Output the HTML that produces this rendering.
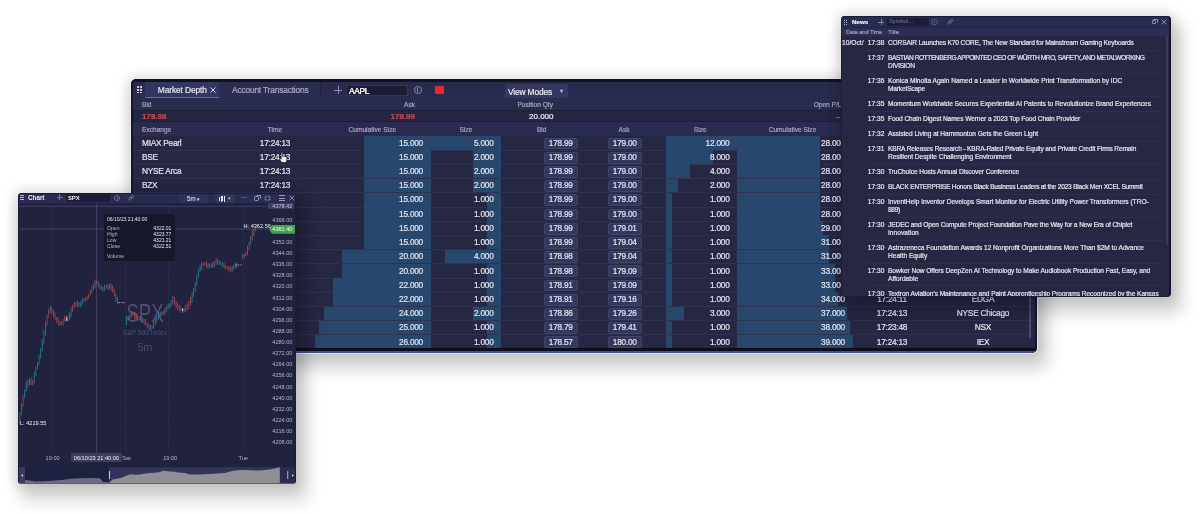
<!DOCTYPE html>
<html><head><meta charset="utf-8"><style>
html,body{margin:0;padding:0;}
.sw div{-webkit-text-stroke:0.2px currentColor;}
body{width:1200px;height:514px;overflow:hidden;position:relative;background:#fff;font-family:"Liberation Sans", Arial, sans-serif;}
</style></head><body>
<div class="sw" style="position:absolute;left:131px;top:79px;width:906px;height:274px;border-radius:5px;overflow:hidden;box-shadow:0 0 0 1px rgba(235,235,240,.9),0 0 12px 5px rgba(0,0,0,.10),7px 12px 16px 5px rgba(0,0,0,.16);"><div style="position:absolute;left:0px;top:0px;width:906px;height:274px;background:#252743;"></div><div style="position:absolute;left:0px;top:2px;width:906px;height:17px;background:#292b4e;"></div><div style="position:absolute;left:14px;top:2px;width:74px;height:17px;background:#323660;border-bottom:1px solid #4a77ae;box-sizing:border-box;"></div><div style="position:absolute;left:88px;top:2px;width:102px;height:17px;background:#2b2d50;border-right:1px solid #22243f;box-sizing:border-box;"></div><div style="position:absolute;left:6.199999999999989px;top:7.299999999999997px;width:1.8px;height:1.8px;background:#c8c9d8;"></div><div style="position:absolute;left:6.199999999999989px;top:10.0px;width:1.8px;height:1.8px;background:#c8c9d8;"></div><div style="position:absolute;left:6.199999999999989px;top:12.700000000000003px;width:1.8px;height:1.8px;background:#c8c9d8;"></div><div style="position:absolute;left:9.0px;top:7.299999999999997px;width:1.8px;height:1.8px;background:#c8c9d8;"></div><div style="position:absolute;left:9.0px;top:10.0px;width:1.8px;height:1.8px;background:#c8c9d8;"></div><div style="position:absolute;left:9.0px;top:12.700000000000003px;width:1.8px;height:1.8px;background:#c8c9d8;"></div><div style="position:absolute;left:26.80000000000001px;top:6.16px;font-size:8.4px;line-height:10.08px;color:#e4e4ee;font-weight:400;white-space:nowrap;letter-spacing:-0.1px;">Market Depth</div><svg style="position:absolute;left:79.30000000000001px;top:8.299999999999997px" width="6" height="6"><path d="M0.5,0.5L5.5,5.5M5.5,0.5L0.5,5.5" stroke="#d4d4e2" stroke-width="1"/></svg><div style="position:absolute;left:101px;top:6.16px;font-size:8.4px;line-height:10.08px;color:#a9abc6;font-weight:400;white-space:nowrap;letter-spacing:-0.18px;">Account Transactions</div><div style="position:absolute;left:202.8px;top:10.799999999999997px;width:8.5px;height:0.9px;background:#8a8cb0;"></div><div style="position:absolute;left:206.60000000000002px;top:6.799999999999997px;width:0.9px;height:8.6px;background:#8a8cb0;"></div><div style="position:absolute;left:197.8px;top:2px;width:0.8px;height:17px;background:#26284a;"></div><div style="position:absolute;left:215px;top:5.5px;width:62px;height:11.5px;background:#1b1c36;border:1px solid #33365a;box-sizing:border-box;"></div><div style="position:absolute;left:218px;top:6.76px;font-size:8.4px;line-height:10.08px;color:#f4f4f8;font-weight:400;white-space:nowrap;letter-spacing:-0.3px;text-shadow:0 0 0.4px #fff;">AAPL</div><div style="position:absolute;left:282.5px;top:7px;width:8px;height:8px;border:1px solid #8587a8;border-radius:50%;box-sizing:border-box;"></div><div style="position:absolute;left:286.1px;top:8.799999999999997px;width:0.9px;height:4px;background:#8587a8;"></div><div style="position:absolute;left:304px;top:7.400000000000006px;width:8.5px;height:7.4px;background:#e42b2e;border-radius:1px;"></div><div style="position:absolute;left:373.5px;top:4.599999999999994px;width:63.5px;height:14.4px;background:#343760;"></div><div style="position:absolute;left:377px;top:7.76px;font-size:8.4px;line-height:10.08px;color:#ececf4;font-weight:400;white-space:nowrap;letter-spacing:-0.15px;">View Modes</div><div style="position:absolute;left:429px;top:8.60px;font-size:6px;line-height:7.20px;color:#a8c0dc;font-weight:400;white-space:nowrap;letter-spacing:0px;">&#x25BE;</div><div style="position:absolute;left:0px;top:19px;width:906px;height:12px;background:#2a2c4e;"></div><div style="position:absolute;left:11px;top:21.84px;font-size:6.6px;line-height:7.92px;color:#a3a5c2;font-weight:400;white-space:nowrap;letter-spacing:0px;">Bid</div><div style="position:absolute;right:calc(100% - 284px);top:21.84px;font-size:6.6px;line-height:7.92px;color:#a3a5c2;font-weight:400;white-space:nowrap;letter-spacing:0px;">Ask</div><div style="position:absolute;right:calc(100% - 422px);top:21.84px;font-size:6.6px;line-height:7.92px;color:#a3a5c2;font-weight:400;white-space:nowrap;letter-spacing:0px;">Position Qty</div><div style="position:absolute;right:calc(100% - 710.5px);top:21.84px;font-size:6.6px;line-height:7.92px;color:#a3a5c2;font-weight:400;white-space:nowrap;letter-spacing:0px;">Open P/L</div><div style="position:absolute;left:0px;top:31px;width:906px;height:12px;background:#232542;"></div><div style="position:absolute;left:0px;top:31.200000000000003px;width:906px;height:0.8px;background:#1d1f38;"></div><div style="position:absolute;left:0px;top:42.2px;width:906px;height:0.8px;background:#1d1f38;"></div><div style="position:absolute;left:11px;top:33.10px;font-size:8px;line-height:9.60px;color:#cf474f;font-weight:700;white-space:nowrap;letter-spacing:0px;">178.98</div><div style="position:absolute;right:calc(100% - 284px);top:33.10px;font-size:8px;line-height:9.60px;color:#cf474f;font-weight:700;white-space:nowrap;letter-spacing:0px;">178.99</div><div style="position:absolute;right:calc(100% - 422.5px);top:33.10px;font-size:8px;line-height:9.60px;color:#eeeef4;font-weight:400;white-space:nowrap;letter-spacing:0px;">20.000</div><div style="position:absolute;left:705px;top:37.5px;width:4px;height:1px;background:#cf474f;"></div><div style="position:absolute;left:0px;top:43px;width:906px;height:14px;background:#2a2c4f;"></div><div style="position:absolute;left:11px;top:46.54px;font-size:6.6px;line-height:7.92px;color:#a3a5c2;font-weight:400;white-space:nowrap;letter-spacing:0px;">Exchange</div><div style="position:absolute;left:44px;width:200px;text-align:center;top:46.54px;font-size:6.6px;line-height:7.92px;color:#a3a5c2;font-weight:400;white-space:nowrap;letter-spacing:0px;">Time</div><div style="position:absolute;left:141.3px;width:200px;text-align:center;top:46.54px;font-size:6.6px;line-height:7.92px;color:#a3a5c2;font-weight:400;white-space:nowrap;letter-spacing:0px;">Cumulative Size</div><div style="position:absolute;left:235px;width:200px;text-align:center;top:46.54px;font-size:6.6px;line-height:7.92px;color:#a3a5c2;font-weight:400;white-space:nowrap;letter-spacing:0px;">Size</div><div style="position:absolute;left:310.70000000000005px;width:200px;text-align:center;top:46.54px;font-size:6.6px;line-height:7.92px;color:#a3a5c2;font-weight:400;white-space:nowrap;letter-spacing:0px;">Bid</div><div style="position:absolute;left:393px;width:200px;text-align:center;top:46.54px;font-size:6.6px;line-height:7.92px;color:#a3a5c2;font-weight:400;white-space:nowrap;letter-spacing:0px;">Ask</div><div style="position:absolute;left:469.20000000000005px;width:200px;text-align:center;top:46.54px;font-size:6.6px;line-height:7.92px;color:#a3a5c2;font-weight:400;white-space:nowrap;letter-spacing:0px;">Size</div><div style="position:absolute;left:561.5px;width:200px;text-align:center;top:46.54px;font-size:6.6px;line-height:7.92px;color:#a3a5c2;font-weight:400;white-space:nowrap;letter-spacing:0px;">Cumulative Size</div><div style="position:absolute;left:661px;width:200px;text-align:center;top:46.54px;font-size:6.6px;line-height:7.92px;color:#a3a5c2;font-weight:400;white-space:nowrap;letter-spacing:0px;">Time</div><div style="position:absolute;left:752px;width:200px;text-align:center;top:46.54px;font-size:6.6px;line-height:7.92px;color:#a3a5c2;font-weight:400;white-space:nowrap;letter-spacing:0px;">Exchange</div><div style="position:absolute;left:233.0769230769231px;top:57.0px;width:66.92307692307692px;height:14.21px;background:#27476c;"></div><div style="position:absolute;left:300.0px;top:57.0px;width:70.0px;height:14.21px;background:#27476c;"></div><div style="position:absolute;left:535px;top:57.0px;width:71.0px;height:14.21px;background:#27476c;"></div><div style="position:absolute;left:606px;top:57.0px;width:83.28205128205128px;height:14.21px;background:#27476c;"></div><div style="position:absolute;left:11px;top:59.62px;font-size:8.3px;line-height:9.96px;color:#e2e3ee;font-weight:400;white-space:nowrap;letter-spacing:-0.25px;">MIAX Pearl</div><div style="position:absolute;left:44px;width:200px;text-align:center;top:59.62px;font-size:8.3px;line-height:9.96px;color:#e2e3ee;font-weight:400;white-space:nowrap;letter-spacing:-0.25px;">17:24:13</div><div style="position:absolute;right:calc(100% - 292px);top:59.62px;font-size:8.3px;line-height:9.96px;color:#e2e3ee;font-weight:400;white-space:nowrap;letter-spacing:-0.25px;">15.000</div><div style="position:absolute;right:calc(100% - 362.5px);top:59.62px;font-size:8.3px;line-height:9.96px;color:#e2e3ee;font-weight:400;white-space:nowrap;letter-spacing:-0.25px;">5.000</div><div style="position:absolute;left:413px;top:58.5px;width:33.5px;height:11.8px;background:#34375e;border:0.7px solid #40436a;box-sizing:border-box;border-radius:1.5px;"></div><div style="position:absolute;left:477px;top:58.5px;width:33.5px;height:11.8px;background:#34375e;border:0.7px solid #40436a;box-sizing:border-box;border-radius:1.5px;"></div><div style="position:absolute;left:329.79999999999995px;width:200px;text-align:center;top:59.62px;font-size:8.3px;line-height:9.96px;color:#e2e3ee;font-weight:400;white-space:nowrap;letter-spacing:-0.25px;">178.99</div><div style="position:absolute;left:393.79999999999995px;width:200px;text-align:center;top:59.62px;font-size:8.3px;line-height:9.96px;color:#e2e3ee;font-weight:400;white-space:nowrap;letter-spacing:-0.25px;">179.00</div><div style="position:absolute;right:calc(100% - 598.5px);top:59.62px;font-size:8.3px;line-height:9.96px;color:#e2e3ee;font-weight:400;white-space:nowrap;letter-spacing:-0.25px;">12.000</div><div style="position:absolute;right:calc(100% - 714px);top:59.62px;font-size:8.3px;line-height:9.96px;color:#e2e3ee;font-weight:400;white-space:nowrap;letter-spacing:-0.25px;">28.000</div><div style="position:absolute;left:661px;width:200px;text-align:center;top:59.62px;font-size:8.3px;line-height:9.96px;color:#e2e3ee;font-weight:400;white-space:nowrap;letter-spacing:-0.25px;">17:24:13</div><div style="position:absolute;left:752px;width:200px;text-align:center;top:59.62px;font-size:8.3px;line-height:9.96px;color:#e2e3ee;font-weight:400;white-space:nowrap;letter-spacing:-0.25px;">MEMX</div><div style="position:absolute;left:0px;top:70.71000000000001px;width:906px;height:1px;background:#2f3150;"></div><div style="position:absolute;left:233.0769230769231px;top:71.21000000000001px;width:66.92307692307692px;height:14.21px;background:#27476c;"></div><div style="position:absolute;left:342.0px;top:71.21000000000001px;width:28.0px;height:14.21px;background:#27476c;"></div><div style="position:absolute;left:535px;top:71.21000000000001px;width:47.333333333333336px;height:14.21px;background:#27476c;"></div><div style="position:absolute;left:606px;top:71.21000000000001px;width:83.28205128205128px;height:14.21px;background:#27476c;"></div><div style="position:absolute;left:11px;top:73.83px;font-size:8.3px;line-height:9.96px;color:#e2e3ee;font-weight:400;white-space:nowrap;letter-spacing:-0.25px;">BSE</div><div style="position:absolute;left:44px;width:200px;text-align:center;top:73.83px;font-size:8.3px;line-height:9.96px;color:#e2e3ee;font-weight:400;white-space:nowrap;letter-spacing:-0.25px;">17:24:13</div><div style="position:absolute;right:calc(100% - 292px);top:73.83px;font-size:8.3px;line-height:9.96px;color:#e2e3ee;font-weight:400;white-space:nowrap;letter-spacing:-0.25px;">15.000</div><div style="position:absolute;right:calc(100% - 362.5px);top:73.83px;font-size:8.3px;line-height:9.96px;color:#e2e3ee;font-weight:400;white-space:nowrap;letter-spacing:-0.25px;">2.000</div><div style="position:absolute;left:413px;top:72.71000000000001px;width:33.5px;height:11.8px;background:#34375e;border:0.7px solid #40436a;box-sizing:border-box;border-radius:1.5px;"></div><div style="position:absolute;left:477px;top:72.71000000000001px;width:33.5px;height:11.8px;background:#34375e;border:0.7px solid #40436a;box-sizing:border-box;border-radius:1.5px;"></div><div style="position:absolute;left:329.79999999999995px;width:200px;text-align:center;top:73.83px;font-size:8.3px;line-height:9.96px;color:#e2e3ee;font-weight:400;white-space:nowrap;letter-spacing:-0.25px;">178.99</div><div style="position:absolute;left:393.79999999999995px;width:200px;text-align:center;top:73.83px;font-size:8.3px;line-height:9.96px;color:#e2e3ee;font-weight:400;white-space:nowrap;letter-spacing:-0.25px;">179.00</div><div style="position:absolute;right:calc(100% - 598.5px);top:73.83px;font-size:8.3px;line-height:9.96px;color:#e2e3ee;font-weight:400;white-space:nowrap;letter-spacing:-0.25px;">8.000</div><div style="position:absolute;right:calc(100% - 714px);top:73.83px;font-size:8.3px;line-height:9.96px;color:#e2e3ee;font-weight:400;white-space:nowrap;letter-spacing:-0.25px;">28.000</div><div style="position:absolute;left:661px;width:200px;text-align:center;top:73.83px;font-size:8.3px;line-height:9.96px;color:#e2e3ee;font-weight:400;white-space:nowrap;letter-spacing:-0.25px;">17:24:13</div><div style="position:absolute;left:752px;width:200px;text-align:center;top:73.83px;font-size:8.3px;line-height:9.96px;color:#e2e3ee;font-weight:400;white-space:nowrap;letter-spacing:-0.25px;">BZX</div><div style="position:absolute;left:0px;top:84.92000000000002px;width:906px;height:1px;background:#2f3150;"></div><div style="position:absolute;left:233.0769230769231px;top:85.42000000000002px;width:66.92307692307692px;height:14.21px;background:#27476c;"></div><div style="position:absolute;left:342.0px;top:85.42000000000002px;width:28.0px;height:14.21px;background:#27476c;"></div><div style="position:absolute;left:535px;top:85.42000000000002px;width:23.666666666666668px;height:14.21px;background:#27476c;"></div><div style="position:absolute;left:606px;top:85.42000000000002px;width:83.28205128205128px;height:14.21px;background:#27476c;"></div><div style="position:absolute;left:11px;top:88.04px;font-size:8.3px;line-height:9.96px;color:#e2e3ee;font-weight:400;white-space:nowrap;letter-spacing:-0.25px;">NYSE Arca</div><div style="position:absolute;left:44px;width:200px;text-align:center;top:88.04px;font-size:8.3px;line-height:9.96px;color:#e2e3ee;font-weight:400;white-space:nowrap;letter-spacing:-0.25px;">17:24:13</div><div style="position:absolute;right:calc(100% - 292px);top:88.04px;font-size:8.3px;line-height:9.96px;color:#e2e3ee;font-weight:400;white-space:nowrap;letter-spacing:-0.25px;">15.000</div><div style="position:absolute;right:calc(100% - 362.5px);top:88.04px;font-size:8.3px;line-height:9.96px;color:#e2e3ee;font-weight:400;white-space:nowrap;letter-spacing:-0.25px;">2.000</div><div style="position:absolute;left:413px;top:86.92000000000002px;width:33.5px;height:11.8px;background:#34375e;border:0.7px solid #40436a;box-sizing:border-box;border-radius:1.5px;"></div><div style="position:absolute;left:477px;top:86.92000000000002px;width:33.5px;height:11.8px;background:#34375e;border:0.7px solid #40436a;box-sizing:border-box;border-radius:1.5px;"></div><div style="position:absolute;left:329.79999999999995px;width:200px;text-align:center;top:88.04px;font-size:8.3px;line-height:9.96px;color:#e2e3ee;font-weight:400;white-space:nowrap;letter-spacing:-0.25px;">178.99</div><div style="position:absolute;left:393.79999999999995px;width:200px;text-align:center;top:88.04px;font-size:8.3px;line-height:9.96px;color:#e2e3ee;font-weight:400;white-space:nowrap;letter-spacing:-0.25px;">179.00</div><div style="position:absolute;right:calc(100% - 598.5px);top:88.04px;font-size:8.3px;line-height:9.96px;color:#e2e3ee;font-weight:400;white-space:nowrap;letter-spacing:-0.25px;">4.000</div><div style="position:absolute;right:calc(100% - 714px);top:88.04px;font-size:8.3px;line-height:9.96px;color:#e2e3ee;font-weight:400;white-space:nowrap;letter-spacing:-0.25px;">28.000</div><div style="position:absolute;left:661px;width:200px;text-align:center;top:88.04px;font-size:8.3px;line-height:9.96px;color:#e2e3ee;font-weight:400;white-space:nowrap;letter-spacing:-0.25px;">17:24:13</div><div style="position:absolute;left:752px;width:200px;text-align:center;top:88.04px;font-size:8.3px;line-height:9.96px;color:#e2e3ee;font-weight:400;white-space:nowrap;letter-spacing:-0.25px;">NYSE Arca</div><div style="position:absolute;left:0px;top:99.13px;width:906px;height:1px;background:#2f3150;"></div><div style="position:absolute;left:233.0769230769231px;top:99.63px;width:66.92307692307692px;height:14.21px;background:#27476c;"></div><div style="position:absolute;left:342.0px;top:99.63px;width:28.0px;height:14.21px;background:#27476c;"></div><div style="position:absolute;left:535px;top:99.63px;width:11.833333333333334px;height:14.21px;background:#27476c;"></div><div style="position:absolute;left:606px;top:99.63px;width:83.28205128205128px;height:14.21px;background:#27476c;"></div><div style="position:absolute;left:11px;top:102.25px;font-size:8.3px;line-height:9.96px;color:#e2e3ee;font-weight:400;white-space:nowrap;letter-spacing:-0.25px;">BZX</div><div style="position:absolute;left:44px;width:200px;text-align:center;top:102.25px;font-size:8.3px;line-height:9.96px;color:#e2e3ee;font-weight:400;white-space:nowrap;letter-spacing:-0.25px;">17:24:13</div><div style="position:absolute;right:calc(100% - 292px);top:102.25px;font-size:8.3px;line-height:9.96px;color:#e2e3ee;font-weight:400;white-space:nowrap;letter-spacing:-0.25px;">15.000</div><div style="position:absolute;right:calc(100% - 362.5px);top:102.25px;font-size:8.3px;line-height:9.96px;color:#e2e3ee;font-weight:400;white-space:nowrap;letter-spacing:-0.25px;">2.000</div><div style="position:absolute;left:413px;top:101.13px;width:33.5px;height:11.8px;background:#34375e;border:0.7px solid #40436a;box-sizing:border-box;border-radius:1.5px;"></div><div style="position:absolute;left:477px;top:101.13px;width:33.5px;height:11.8px;background:#34375e;border:0.7px solid #40436a;box-sizing:border-box;border-radius:1.5px;"></div><div style="position:absolute;left:329.79999999999995px;width:200px;text-align:center;top:102.25px;font-size:8.3px;line-height:9.96px;color:#e2e3ee;font-weight:400;white-space:nowrap;letter-spacing:-0.25px;">178.99</div><div style="position:absolute;left:393.79999999999995px;width:200px;text-align:center;top:102.25px;font-size:8.3px;line-height:9.96px;color:#e2e3ee;font-weight:400;white-space:nowrap;letter-spacing:-0.25px;">179.00</div><div style="position:absolute;right:calc(100% - 598.5px);top:102.25px;font-size:8.3px;line-height:9.96px;color:#e2e3ee;font-weight:400;white-space:nowrap;letter-spacing:-0.25px;">2.000</div><div style="position:absolute;right:calc(100% - 714px);top:102.25px;font-size:8.3px;line-height:9.96px;color:#e2e3ee;font-weight:400;white-space:nowrap;letter-spacing:-0.25px;">28.000</div><div style="position:absolute;left:661px;width:200px;text-align:center;top:102.25px;font-size:8.3px;line-height:9.96px;color:#e2e3ee;font-weight:400;white-space:nowrap;letter-spacing:-0.25px;">17:24:13</div><div style="position:absolute;left:752px;width:200px;text-align:center;top:102.25px;font-size:8.3px;line-height:9.96px;color:#e2e3ee;font-weight:400;white-space:nowrap;letter-spacing:-0.25px;">BSE</div><div style="position:absolute;left:0px;top:113.34px;width:906px;height:1px;background:#2f3150;"></div><div style="position:absolute;left:233.0769230769231px;top:113.84px;width:66.92307692307692px;height:14.21px;background:#27476c;"></div><div style="position:absolute;left:356.0px;top:113.84px;width:14.0px;height:14.21px;background:#27476c;"></div><div style="position:absolute;left:535px;top:113.84px;width:5.916666666666667px;height:14.21px;background:#27476c;"></div><div style="position:absolute;left:606px;top:113.84px;width:83.28205128205128px;height:14.21px;background:#27476c;"></div><div style="position:absolute;left:11px;top:116.46px;font-size:8.3px;line-height:9.96px;color:#e2e3ee;font-weight:400;white-space:nowrap;letter-spacing:-0.25px;">EDGX</div><div style="position:absolute;left:44px;width:200px;text-align:center;top:116.46px;font-size:8.3px;line-height:9.96px;color:#e2e3ee;font-weight:400;white-space:nowrap;letter-spacing:-0.25px;">17:24:13</div><div style="position:absolute;right:calc(100% - 292px);top:116.46px;font-size:8.3px;line-height:9.96px;color:#e2e3ee;font-weight:400;white-space:nowrap;letter-spacing:-0.25px;">15.000</div><div style="position:absolute;right:calc(100% - 362.5px);top:116.46px;font-size:8.3px;line-height:9.96px;color:#e2e3ee;font-weight:400;white-space:nowrap;letter-spacing:-0.25px;">1.000</div><div style="position:absolute;left:413px;top:115.34px;width:33.5px;height:11.8px;background:#34375e;border:0.7px solid #40436a;box-sizing:border-box;border-radius:1.5px;"></div><div style="position:absolute;left:477px;top:115.34px;width:33.5px;height:11.8px;background:#34375e;border:0.7px solid #40436a;box-sizing:border-box;border-radius:1.5px;"></div><div style="position:absolute;left:329.79999999999995px;width:200px;text-align:center;top:116.46px;font-size:8.3px;line-height:9.96px;color:#e2e3ee;font-weight:400;white-space:nowrap;letter-spacing:-0.25px;">178.99</div><div style="position:absolute;left:393.79999999999995px;width:200px;text-align:center;top:116.46px;font-size:8.3px;line-height:9.96px;color:#e2e3ee;font-weight:400;white-space:nowrap;letter-spacing:-0.25px;">179.00</div><div style="position:absolute;right:calc(100% - 598.5px);top:116.46px;font-size:8.3px;line-height:9.96px;color:#e2e3ee;font-weight:400;white-space:nowrap;letter-spacing:-0.25px;">1.000</div><div style="position:absolute;right:calc(100% - 714px);top:116.46px;font-size:8.3px;line-height:9.96px;color:#e2e3ee;font-weight:400;white-space:nowrap;letter-spacing:-0.25px;">28.000</div><div style="position:absolute;left:661px;width:200px;text-align:center;top:116.46px;font-size:8.3px;line-height:9.96px;color:#e2e3ee;font-weight:400;white-space:nowrap;letter-spacing:-0.25px;">17:24:13</div><div style="position:absolute;left:752px;width:200px;text-align:center;top:116.46px;font-size:8.3px;line-height:9.96px;color:#e2e3ee;font-weight:400;white-space:nowrap;letter-spacing:-0.25px;">EDGX</div><div style="position:absolute;left:0px;top:127.55000000000001px;width:906px;height:1px;background:#2f3150;"></div><div style="position:absolute;left:233.0769230769231px;top:128.05px;width:66.92307692307692px;height:14.21px;background:#27476c;"></div><div style="position:absolute;left:356.0px;top:128.05px;width:14.0px;height:14.21px;background:#27476c;"></div><div style="position:absolute;left:535px;top:128.05px;width:5.916666666666667px;height:14.21px;background:#27476c;"></div><div style="position:absolute;left:606px;top:128.05px;width:83.28205128205128px;height:14.21px;background:#27476c;"></div><div style="position:absolute;left:11px;top:130.67px;font-size:8.3px;line-height:9.96px;color:#e2e3ee;font-weight:400;white-space:nowrap;letter-spacing:-0.25px;">NASDAQ</div><div style="position:absolute;left:44px;width:200px;text-align:center;top:130.67px;font-size:8.3px;line-height:9.96px;color:#e2e3ee;font-weight:400;white-space:nowrap;letter-spacing:-0.25px;">17:24:13</div><div style="position:absolute;right:calc(100% - 292px);top:130.67px;font-size:8.3px;line-height:9.96px;color:#e2e3ee;font-weight:400;white-space:nowrap;letter-spacing:-0.25px;">15.000</div><div style="position:absolute;right:calc(100% - 362.5px);top:130.67px;font-size:8.3px;line-height:9.96px;color:#e2e3ee;font-weight:400;white-space:nowrap;letter-spacing:-0.25px;">1.000</div><div style="position:absolute;left:413px;top:129.55px;width:33.5px;height:11.8px;background:#34375e;border:0.7px solid #40436a;box-sizing:border-box;border-radius:1.5px;"></div><div style="position:absolute;left:477px;top:129.55px;width:33.5px;height:11.8px;background:#34375e;border:0.7px solid #40436a;box-sizing:border-box;border-radius:1.5px;"></div><div style="position:absolute;left:329.79999999999995px;width:200px;text-align:center;top:130.67px;font-size:8.3px;line-height:9.96px;color:#e2e3ee;font-weight:400;white-space:nowrap;letter-spacing:-0.25px;">178.99</div><div style="position:absolute;left:393.79999999999995px;width:200px;text-align:center;top:130.67px;font-size:8.3px;line-height:9.96px;color:#e2e3ee;font-weight:400;white-space:nowrap;letter-spacing:-0.25px;">179.00</div><div style="position:absolute;right:calc(100% - 598.5px);top:130.67px;font-size:8.3px;line-height:9.96px;color:#e2e3ee;font-weight:400;white-space:nowrap;letter-spacing:-0.25px;">1.000</div><div style="position:absolute;right:calc(100% - 714px);top:130.67px;font-size:8.3px;line-height:9.96px;color:#e2e3ee;font-weight:400;white-space:nowrap;letter-spacing:-0.25px;">28.000</div><div style="position:absolute;left:661px;width:200px;text-align:center;top:130.67px;font-size:8.3px;line-height:9.96px;color:#e2e3ee;font-weight:400;white-space:nowrap;letter-spacing:-0.25px;">17:24:13</div><div style="position:absolute;left:752px;width:200px;text-align:center;top:130.67px;font-size:8.3px;line-height:9.96px;color:#e2e3ee;font-weight:400;white-space:nowrap;letter-spacing:-0.25px;">NASDAQ</div><div style="position:absolute;left:0px;top:141.76px;width:906px;height:1px;background:#2f3150;"></div><div style="position:absolute;left:233.0769230769231px;top:142.26px;width:66.92307692307692px;height:14.21px;background:#27476c;"></div><div style="position:absolute;left:356.0px;top:142.26px;width:14.0px;height:14.21px;background:#27476c;"></div><div style="position:absolute;left:535px;top:142.26px;width:5.916666666666667px;height:14.21px;background:#27476c;"></div><div style="position:absolute;left:606px;top:142.26px;width:86.25641025641026px;height:14.21px;background:#27476c;"></div><div style="position:absolute;left:11px;top:144.88px;font-size:8.3px;line-height:9.96px;color:#e2e3ee;font-weight:400;white-space:nowrap;letter-spacing:-0.25px;">MEMX</div><div style="position:absolute;left:44px;width:200px;text-align:center;top:144.88px;font-size:8.3px;line-height:9.96px;color:#e2e3ee;font-weight:400;white-space:nowrap;letter-spacing:-0.25px;">17:24:13</div><div style="position:absolute;right:calc(100% - 292px);top:144.88px;font-size:8.3px;line-height:9.96px;color:#e2e3ee;font-weight:400;white-space:nowrap;letter-spacing:-0.25px;">15.000</div><div style="position:absolute;right:calc(100% - 362.5px);top:144.88px;font-size:8.3px;line-height:9.96px;color:#e2e3ee;font-weight:400;white-space:nowrap;letter-spacing:-0.25px;">1.000</div><div style="position:absolute;left:413px;top:143.76px;width:33.5px;height:11.8px;background:#34375e;border:0.7px solid #40436a;box-sizing:border-box;border-radius:1.5px;"></div><div style="position:absolute;left:477px;top:143.76px;width:33.5px;height:11.8px;background:#34375e;border:0.7px solid #40436a;box-sizing:border-box;border-radius:1.5px;"></div><div style="position:absolute;left:329.79999999999995px;width:200px;text-align:center;top:144.88px;font-size:8.3px;line-height:9.96px;color:#e2e3ee;font-weight:400;white-space:nowrap;letter-spacing:-0.25px;">178.99</div><div style="position:absolute;left:393.79999999999995px;width:200px;text-align:center;top:144.88px;font-size:8.3px;line-height:9.96px;color:#e2e3ee;font-weight:400;white-space:nowrap;letter-spacing:-0.25px;">179.01</div><div style="position:absolute;right:calc(100% - 598.5px);top:144.88px;font-size:8.3px;line-height:9.96px;color:#e2e3ee;font-weight:400;white-space:nowrap;letter-spacing:-0.25px;">1.000</div><div style="position:absolute;right:calc(100% - 714px);top:144.88px;font-size:8.3px;line-height:9.96px;color:#e2e3ee;font-weight:400;white-space:nowrap;letter-spacing:-0.25px;">29.000</div><div style="position:absolute;left:661px;width:200px;text-align:center;top:144.88px;font-size:8.3px;line-height:9.96px;color:#e2e3ee;font-weight:400;white-space:nowrap;letter-spacing:-0.25px;">17:24:13</div><div style="position:absolute;left:752px;width:200px;text-align:center;top:144.88px;font-size:8.3px;line-height:9.96px;color:#e2e3ee;font-weight:400;white-space:nowrap;letter-spacing:-0.25px;">BYX</div><div style="position:absolute;left:0px;top:155.97px;width:906px;height:1px;background:#2f3150;"></div><div style="position:absolute;left:233.0769230769231px;top:156.47px;width:66.92307692307692px;height:14.21px;background:#27476c;"></div><div style="position:absolute;left:356.0px;top:156.47px;width:14.0px;height:14.21px;background:#27476c;"></div><div style="position:absolute;left:535px;top:156.47px;width:5.916666666666667px;height:14.21px;background:#27476c;"></div><div style="position:absolute;left:606px;top:156.47px;width:92.2051282051282px;height:14.21px;background:#27476c;"></div><div style="position:absolute;left:11px;top:159.09px;font-size:8.3px;line-height:9.96px;color:#e2e3ee;font-weight:400;white-space:nowrap;letter-spacing:-0.25px;">BYX</div><div style="position:absolute;left:44px;width:200px;text-align:center;top:159.09px;font-size:8.3px;line-height:9.96px;color:#e2e3ee;font-weight:400;white-space:nowrap;letter-spacing:-0.25px;">17:24:13</div><div style="position:absolute;right:calc(100% - 292px);top:159.09px;font-size:8.3px;line-height:9.96px;color:#e2e3ee;font-weight:400;white-space:nowrap;letter-spacing:-0.25px;">15.000</div><div style="position:absolute;right:calc(100% - 362.5px);top:159.09px;font-size:8.3px;line-height:9.96px;color:#e2e3ee;font-weight:400;white-space:nowrap;letter-spacing:-0.25px;">1.000</div><div style="position:absolute;left:413px;top:157.97px;width:33.5px;height:11.8px;background:#34375e;border:0.7px solid #40436a;box-sizing:border-box;border-radius:1.5px;"></div><div style="position:absolute;left:477px;top:157.97px;width:33.5px;height:11.8px;background:#34375e;border:0.7px solid #40436a;box-sizing:border-box;border-radius:1.5px;"></div><div style="position:absolute;left:329.79999999999995px;width:200px;text-align:center;top:159.09px;font-size:8.3px;line-height:9.96px;color:#e2e3ee;font-weight:400;white-space:nowrap;letter-spacing:-0.25px;">178.99</div><div style="position:absolute;left:393.79999999999995px;width:200px;text-align:center;top:159.09px;font-size:8.3px;line-height:9.96px;color:#e2e3ee;font-weight:400;white-space:nowrap;letter-spacing:-0.25px;">179.04</div><div style="position:absolute;right:calc(100% - 598.5px);top:159.09px;font-size:8.3px;line-height:9.96px;color:#e2e3ee;font-weight:400;white-space:nowrap;letter-spacing:-0.25px;">1.000</div><div style="position:absolute;right:calc(100% - 714px);top:159.09px;font-size:8.3px;line-height:9.96px;color:#e2e3ee;font-weight:400;white-space:nowrap;letter-spacing:-0.25px;">31.000</div><div style="position:absolute;left:661px;width:200px;text-align:center;top:159.09px;font-size:8.3px;line-height:9.96px;color:#e2e3ee;font-weight:400;white-space:nowrap;letter-spacing:-0.25px;">17:24:13</div><div style="position:absolute;left:752px;width:200px;text-align:center;top:159.09px;font-size:8.3px;line-height:9.96px;color:#e2e3ee;font-weight:400;white-space:nowrap;letter-spacing:-0.25px;">MIAX Pearl</div><div style="position:absolute;left:0px;top:170.18px;width:906px;height:1px;background:#2f3150;"></div><div style="position:absolute;left:210.76923076923077px;top:170.68px;width:89.23076923076923px;height:14.21px;background:#27476c;"></div><div style="position:absolute;left:314.0px;top:170.68px;width:56.0px;height:14.21px;background:#27476c;"></div><div style="position:absolute;left:535px;top:170.68px;width:5.916666666666667px;height:14.21px;background:#27476c;"></div><div style="position:absolute;left:606px;top:170.68px;width:92.2051282051282px;height:14.21px;background:#27476c;"></div><div style="position:absolute;left:11px;top:173.30px;font-size:8.3px;line-height:9.96px;color:#e2e3ee;font-weight:400;white-space:nowrap;letter-spacing:-0.25px;">EDGA</div><div style="position:absolute;left:44px;width:200px;text-align:center;top:173.30px;font-size:8.3px;line-height:9.96px;color:#e2e3ee;font-weight:400;white-space:nowrap;letter-spacing:-0.25px;">17:24:13</div><div style="position:absolute;right:calc(100% - 292px);top:173.30px;font-size:8.3px;line-height:9.96px;color:#e2e3ee;font-weight:400;white-space:nowrap;letter-spacing:-0.25px;">20.000</div><div style="position:absolute;right:calc(100% - 362.5px);top:173.30px;font-size:8.3px;line-height:9.96px;color:#e2e3ee;font-weight:400;white-space:nowrap;letter-spacing:-0.25px;">4.000</div><div style="position:absolute;left:413px;top:172.18000000000004px;width:33.5px;height:11.8px;background:#34375e;border:0.7px solid #40436a;box-sizing:border-box;border-radius:1.5px;"></div><div style="position:absolute;left:477px;top:172.18000000000004px;width:33.5px;height:11.8px;background:#34375e;border:0.7px solid #40436a;box-sizing:border-box;border-radius:1.5px;"></div><div style="position:absolute;left:329.79999999999995px;width:200px;text-align:center;top:173.30px;font-size:8.3px;line-height:9.96px;color:#e2e3ee;font-weight:400;white-space:nowrap;letter-spacing:-0.25px;">178.98</div><div style="position:absolute;left:393.79999999999995px;width:200px;text-align:center;top:173.30px;font-size:8.3px;line-height:9.96px;color:#e2e3ee;font-weight:400;white-space:nowrap;letter-spacing:-0.25px;">179.04</div><div style="position:absolute;right:calc(100% - 598.5px);top:173.30px;font-size:8.3px;line-height:9.96px;color:#e2e3ee;font-weight:400;white-space:nowrap;letter-spacing:-0.25px;">1.000</div><div style="position:absolute;right:calc(100% - 714px);top:173.30px;font-size:8.3px;line-height:9.96px;color:#e2e3ee;font-weight:400;white-space:nowrap;letter-spacing:-0.25px;">31.000</div><div style="position:absolute;left:661px;width:200px;text-align:center;top:173.30px;font-size:8.3px;line-height:9.96px;color:#e2e3ee;font-weight:400;white-space:nowrap;letter-spacing:-0.25px;">17:24:13</div><div style="position:absolute;left:752px;width:200px;text-align:center;top:173.30px;font-size:8.3px;line-height:9.96px;color:#e2e3ee;font-weight:400;white-space:nowrap;letter-spacing:-0.25px;">LTSE</div><div style="position:absolute;left:0px;top:184.39px;width:906px;height:1px;background:#2f3150;"></div><div style="position:absolute;left:210.76923076923077px;top:184.89px;width:89.23076923076923px;height:14.21px;background:#27476c;"></div><div style="position:absolute;left:356.0px;top:184.89px;width:14.0px;height:14.21px;background:#27476c;"></div><div style="position:absolute;left:535px;top:184.89px;width:5.916666666666667px;height:14.21px;background:#27476c;"></div><div style="position:absolute;left:606px;top:184.89px;width:98.15384615384616px;height:14.21px;background:#27476c;"></div><div style="position:absolute;left:11px;top:187.51px;font-size:8.3px;line-height:9.96px;color:#e2e3ee;font-weight:400;white-space:nowrap;letter-spacing:-0.25px;">NSX</div><div style="position:absolute;left:44px;width:200px;text-align:center;top:187.51px;font-size:8.3px;line-height:9.96px;color:#e2e3ee;font-weight:400;white-space:nowrap;letter-spacing:-0.25px;">17:24:13</div><div style="position:absolute;right:calc(100% - 292px);top:187.51px;font-size:8.3px;line-height:9.96px;color:#e2e3ee;font-weight:400;white-space:nowrap;letter-spacing:-0.25px;">20.000</div><div style="position:absolute;right:calc(100% - 362.5px);top:187.51px;font-size:8.3px;line-height:9.96px;color:#e2e3ee;font-weight:400;white-space:nowrap;letter-spacing:-0.25px;">1.000</div><div style="position:absolute;left:413px;top:186.39px;width:33.5px;height:11.8px;background:#34375e;border:0.7px solid #40436a;box-sizing:border-box;border-radius:1.5px;"></div><div style="position:absolute;left:477px;top:186.39px;width:33.5px;height:11.8px;background:#34375e;border:0.7px solid #40436a;box-sizing:border-box;border-radius:1.5px;"></div><div style="position:absolute;left:329.79999999999995px;width:200px;text-align:center;top:187.51px;font-size:8.3px;line-height:9.96px;color:#e2e3ee;font-weight:400;white-space:nowrap;letter-spacing:-0.25px;">178.98</div><div style="position:absolute;left:393.79999999999995px;width:200px;text-align:center;top:187.51px;font-size:8.3px;line-height:9.96px;color:#e2e3ee;font-weight:400;white-space:nowrap;letter-spacing:-0.25px;">179.09</div><div style="position:absolute;right:calc(100% - 598.5px);top:187.51px;font-size:8.3px;line-height:9.96px;color:#e2e3ee;font-weight:400;white-space:nowrap;letter-spacing:-0.25px;">1.000</div><div style="position:absolute;right:calc(100% - 714px);top:187.51px;font-size:8.3px;line-height:9.96px;color:#e2e3ee;font-weight:400;white-space:nowrap;letter-spacing:-0.25px;">33.000</div><div style="position:absolute;left:661px;width:200px;text-align:center;top:187.51px;font-size:8.3px;line-height:9.96px;color:#e2e3ee;font-weight:400;white-space:nowrap;letter-spacing:-0.25px;">17:24:13</div><div style="position:absolute;left:752px;width:200px;text-align:center;top:187.51px;font-size:8.3px;line-height:9.96px;color:#e2e3ee;font-weight:400;white-space:nowrap;letter-spacing:-0.25px;">PHLX</div><div style="position:absolute;left:0px;top:198.60000000000002px;width:906px;height:1px;background:#2f3150;"></div><div style="position:absolute;left:201.8461538461538px;top:199.10000000000002px;width:98.15384615384616px;height:14.21px;background:#27476c;"></div><div style="position:absolute;left:356.0px;top:199.10000000000002px;width:14.0px;height:14.21px;background:#27476c;"></div><div style="position:absolute;left:535px;top:199.10000000000002px;width:5.916666666666667px;height:14.21px;background:#27476c;"></div><div style="position:absolute;left:606px;top:199.10000000000002px;width:98.15384615384616px;height:14.21px;background:#27476c;"></div><div style="position:absolute;left:11px;top:201.72px;font-size:8.3px;line-height:9.96px;color:#e2e3ee;font-weight:400;white-space:nowrap;letter-spacing:-0.25px;">PHLX</div><div style="position:absolute;left:44px;width:200px;text-align:center;top:201.72px;font-size:8.3px;line-height:9.96px;color:#e2e3ee;font-weight:400;white-space:nowrap;letter-spacing:-0.25px;">17:24:13</div><div style="position:absolute;right:calc(100% - 292px);top:201.72px;font-size:8.3px;line-height:9.96px;color:#e2e3ee;font-weight:400;white-space:nowrap;letter-spacing:-0.25px;">22.000</div><div style="position:absolute;right:calc(100% - 362.5px);top:201.72px;font-size:8.3px;line-height:9.96px;color:#e2e3ee;font-weight:400;white-space:nowrap;letter-spacing:-0.25px;">1.000</div><div style="position:absolute;left:413px;top:200.60000000000002px;width:33.5px;height:11.8px;background:#34375e;border:0.7px solid #40436a;box-sizing:border-box;border-radius:1.5px;"></div><div style="position:absolute;left:477px;top:200.60000000000002px;width:33.5px;height:11.8px;background:#34375e;border:0.7px solid #40436a;box-sizing:border-box;border-radius:1.5px;"></div><div style="position:absolute;left:329.79999999999995px;width:200px;text-align:center;top:201.72px;font-size:8.3px;line-height:9.96px;color:#e2e3ee;font-weight:400;white-space:nowrap;letter-spacing:-0.25px;">178.91</div><div style="position:absolute;left:393.79999999999995px;width:200px;text-align:center;top:201.72px;font-size:8.3px;line-height:9.96px;color:#e2e3ee;font-weight:400;white-space:nowrap;letter-spacing:-0.25px;">179.09</div><div style="position:absolute;right:calc(100% - 598.5px);top:201.72px;font-size:8.3px;line-height:9.96px;color:#e2e3ee;font-weight:400;white-space:nowrap;letter-spacing:-0.25px;">1.000</div><div style="position:absolute;right:calc(100% - 714px);top:201.72px;font-size:8.3px;line-height:9.96px;color:#e2e3ee;font-weight:400;white-space:nowrap;letter-spacing:-0.25px;">33.000</div><div style="position:absolute;left:661px;width:200px;text-align:center;top:201.72px;font-size:8.3px;line-height:9.96px;color:#e2e3ee;font-weight:400;white-space:nowrap;letter-spacing:-0.25px;">17:24:13</div><div style="position:absolute;left:752px;width:200px;text-align:center;top:201.72px;font-size:8.3px;line-height:9.96px;color:#e2e3ee;font-weight:400;white-space:nowrap;letter-spacing:-0.25px;">ISE</div><div style="position:absolute;left:0px;top:212.81px;width:906px;height:1px;background:#2f3150;"></div><div style="position:absolute;left:201.8461538461538px;top:213.31px;width:98.15384615384616px;height:14.21px;background:#27476c;"></div><div style="position:absolute;left:356.0px;top:213.31px;width:14.0px;height:14.21px;background:#27476c;"></div><div style="position:absolute;left:535px;top:213.31px;width:5.916666666666667px;height:14.21px;background:#27476c;"></div><div style="position:absolute;left:606px;top:213.31px;width:101.12820512820512px;height:14.21px;background:#27476c;"></div><div style="position:absolute;left:11px;top:215.93px;font-size:8.3px;line-height:9.96px;color:#e2e3ee;font-weight:400;white-space:nowrap;letter-spacing:-0.25px;">IEX</div><div style="position:absolute;left:44px;width:200px;text-align:center;top:215.93px;font-size:8.3px;line-height:9.96px;color:#e2e3ee;font-weight:400;white-space:nowrap;letter-spacing:-0.25px;">17:24:13</div><div style="position:absolute;right:calc(100% - 292px);top:215.93px;font-size:8.3px;line-height:9.96px;color:#e2e3ee;font-weight:400;white-space:nowrap;letter-spacing:-0.25px;">22.000</div><div style="position:absolute;right:calc(100% - 362.5px);top:215.93px;font-size:8.3px;line-height:9.96px;color:#e2e3ee;font-weight:400;white-space:nowrap;letter-spacing:-0.25px;">1.000</div><div style="position:absolute;left:413px;top:214.81px;width:33.5px;height:11.8px;background:#34375e;border:0.7px solid #40436a;box-sizing:border-box;border-radius:1.5px;"></div><div style="position:absolute;left:477px;top:214.81px;width:33.5px;height:11.8px;background:#34375e;border:0.7px solid #40436a;box-sizing:border-box;border-radius:1.5px;"></div><div style="position:absolute;left:329.79999999999995px;width:200px;text-align:center;top:215.93px;font-size:8.3px;line-height:9.96px;color:#e2e3ee;font-weight:400;white-space:nowrap;letter-spacing:-0.25px;">178.91</div><div style="position:absolute;left:393.79999999999995px;width:200px;text-align:center;top:215.93px;font-size:8.3px;line-height:9.96px;color:#e2e3ee;font-weight:400;white-space:nowrap;letter-spacing:-0.25px;">179.16</div><div style="position:absolute;right:calc(100% - 598.5px);top:215.93px;font-size:8.3px;line-height:9.96px;color:#e2e3ee;font-weight:400;white-space:nowrap;letter-spacing:-0.25px;">1.000</div><div style="position:absolute;right:calc(100% - 714px);top:215.93px;font-size:8.3px;line-height:9.96px;color:#e2e3ee;font-weight:400;white-space:nowrap;letter-spacing:-0.25px;">34.000</div><div style="position:absolute;left:661px;width:200px;text-align:center;top:215.93px;font-size:8.3px;line-height:9.96px;color:#e2e3ee;font-weight:400;white-space:nowrap;letter-spacing:-0.25px;">17:24:11</div><div style="position:absolute;left:752px;width:200px;text-align:center;top:215.93px;font-size:8.3px;line-height:9.96px;color:#e2e3ee;font-weight:400;white-space:nowrap;letter-spacing:-0.25px;">EDGA</div><div style="position:absolute;left:0px;top:227.01999999999998px;width:906px;height:1px;background:#2f3150;"></div><div style="position:absolute;left:192.9230769230769px;top:227.51999999999998px;width:107.07692307692308px;height:14.21px;background:#27476c;"></div><div style="position:absolute;left:342.0px;top:227.51999999999998px;width:28.0px;height:14.21px;background:#27476c;"></div><div style="position:absolute;left:535px;top:227.51999999999998px;width:17.75px;height:14.21px;background:#27476c;"></div><div style="position:absolute;left:606px;top:227.51999999999998px;width:110.05128205128206px;height:14.21px;background:#27476c;"></div><div style="position:absolute;left:11px;top:230.14px;font-size:8.3px;line-height:9.96px;color:#e2e3ee;font-weight:400;white-space:nowrap;letter-spacing:-0.25px;">NYSE</div><div style="position:absolute;left:44px;width:200px;text-align:center;top:230.14px;font-size:8.3px;line-height:9.96px;color:#e2e3ee;font-weight:400;white-space:nowrap;letter-spacing:-0.25px;">17:24:13</div><div style="position:absolute;right:calc(100% - 292px);top:230.14px;font-size:8.3px;line-height:9.96px;color:#e2e3ee;font-weight:400;white-space:nowrap;letter-spacing:-0.25px;">24.000</div><div style="position:absolute;right:calc(100% - 362.5px);top:230.14px;font-size:8.3px;line-height:9.96px;color:#e2e3ee;font-weight:400;white-space:nowrap;letter-spacing:-0.25px;">2.000</div><div style="position:absolute;left:413px;top:229.01999999999998px;width:33.5px;height:11.8px;background:#34375e;border:0.7px solid #40436a;box-sizing:border-box;border-radius:1.5px;"></div><div style="position:absolute;left:477px;top:229.01999999999998px;width:33.5px;height:11.8px;background:#34375e;border:0.7px solid #40436a;box-sizing:border-box;border-radius:1.5px;"></div><div style="position:absolute;left:329.79999999999995px;width:200px;text-align:center;top:230.14px;font-size:8.3px;line-height:9.96px;color:#e2e3ee;font-weight:400;white-space:nowrap;letter-spacing:-0.25px;">178.86</div><div style="position:absolute;left:393.79999999999995px;width:200px;text-align:center;top:230.14px;font-size:8.3px;line-height:9.96px;color:#e2e3ee;font-weight:400;white-space:nowrap;letter-spacing:-0.25px;">179.26</div><div style="position:absolute;right:calc(100% - 598.5px);top:230.14px;font-size:8.3px;line-height:9.96px;color:#e2e3ee;font-weight:400;white-space:nowrap;letter-spacing:-0.25px;">3.000</div><div style="position:absolute;right:calc(100% - 714px);top:230.14px;font-size:8.3px;line-height:9.96px;color:#e2e3ee;font-weight:400;white-space:nowrap;letter-spacing:-0.25px;">37.000</div><div style="position:absolute;left:661px;width:200px;text-align:center;top:230.14px;font-size:8.3px;line-height:9.96px;color:#e2e3ee;font-weight:400;white-space:nowrap;letter-spacing:-0.25px;">17:24:13</div><div style="position:absolute;left:752px;width:200px;text-align:center;top:230.14px;font-size:8.3px;line-height:9.96px;color:#e2e3ee;font-weight:400;white-space:nowrap;letter-spacing:-0.25px;">NYSE Chicago</div><div style="position:absolute;left:0px;top:241.23000000000002px;width:906px;height:1px;background:#2f3150;"></div><div style="position:absolute;left:188.46153846153845px;top:241.73000000000002px;width:111.53846153846153px;height:14.21px;background:#27476c;"></div><div style="position:absolute;left:356.0px;top:241.73000000000002px;width:14.0px;height:14.21px;background:#27476c;"></div><div style="position:absolute;left:535px;top:241.73000000000002px;width:5.916666666666667px;height:14.21px;background:#27476c;"></div><div style="position:absolute;left:606px;top:241.73000000000002px;width:113.02564102564102px;height:14.21px;background:#27476c;"></div><div style="position:absolute;left:11px;top:244.35px;font-size:8.3px;line-height:9.96px;color:#e2e3ee;font-weight:400;white-space:nowrap;letter-spacing:-0.25px;">LTSE</div><div style="position:absolute;left:44px;width:200px;text-align:center;top:244.35px;font-size:8.3px;line-height:9.96px;color:#e2e3ee;font-weight:400;white-space:nowrap;letter-spacing:-0.25px;">17:24:13</div><div style="position:absolute;right:calc(100% - 292px);top:244.35px;font-size:8.3px;line-height:9.96px;color:#e2e3ee;font-weight:400;white-space:nowrap;letter-spacing:-0.25px;">25.000</div><div style="position:absolute;right:calc(100% - 362.5px);top:244.35px;font-size:8.3px;line-height:9.96px;color:#e2e3ee;font-weight:400;white-space:nowrap;letter-spacing:-0.25px;">1.000</div><div style="position:absolute;left:413px;top:243.23000000000002px;width:33.5px;height:11.8px;background:#34375e;border:0.7px solid #40436a;box-sizing:border-box;border-radius:1.5px;"></div><div style="position:absolute;left:477px;top:243.23000000000002px;width:33.5px;height:11.8px;background:#34375e;border:0.7px solid #40436a;box-sizing:border-box;border-radius:1.5px;"></div><div style="position:absolute;left:329.79999999999995px;width:200px;text-align:center;top:244.35px;font-size:8.3px;line-height:9.96px;color:#e2e3ee;font-weight:400;white-space:nowrap;letter-spacing:-0.25px;">178.79</div><div style="position:absolute;left:393.79999999999995px;width:200px;text-align:center;top:244.35px;font-size:8.3px;line-height:9.96px;color:#e2e3ee;font-weight:400;white-space:nowrap;letter-spacing:-0.25px;">179.41</div><div style="position:absolute;right:calc(100% - 598.5px);top:244.35px;font-size:8.3px;line-height:9.96px;color:#e2e3ee;font-weight:400;white-space:nowrap;letter-spacing:-0.25px;">1.000</div><div style="position:absolute;right:calc(100% - 714px);top:244.35px;font-size:8.3px;line-height:9.96px;color:#e2e3ee;font-weight:400;white-space:nowrap;letter-spacing:-0.25px;">38.000</div><div style="position:absolute;left:661px;width:200px;text-align:center;top:244.35px;font-size:8.3px;line-height:9.96px;color:#e2e3ee;font-weight:400;white-space:nowrap;letter-spacing:-0.25px;">17:23:48</div><div style="position:absolute;left:752px;width:200px;text-align:center;top:244.35px;font-size:8.3px;line-height:9.96px;color:#e2e3ee;font-weight:400;white-space:nowrap;letter-spacing:-0.25px;">NSX</div><div style="position:absolute;left:0px;top:255.44px;width:906px;height:1px;background:#2f3150;"></div><div style="position:absolute;left:184.0px;top:255.94px;width:116.0px;height:14.21px;background:#27476c;"></div><div style="position:absolute;left:356.0px;top:255.94px;width:14.0px;height:14.21px;background:#27476c;"></div><div style="position:absolute;left:535px;top:255.94px;width:5.916666666666667px;height:14.21px;background:#27476c;"></div><div style="position:absolute;left:606px;top:255.94px;width:116.0px;height:14.21px;background:#27476c;"></div><div style="position:absolute;left:11px;top:258.56px;font-size:8.3px;line-height:9.96px;color:#e2e3ee;font-weight:400;white-space:nowrap;letter-spacing:-0.25px;">ISE</div><div style="position:absolute;left:44px;width:200px;text-align:center;top:258.56px;font-size:8.3px;line-height:9.96px;color:#e2e3ee;font-weight:400;white-space:nowrap;letter-spacing:-0.25px;">17:24:13</div><div style="position:absolute;right:calc(100% - 292px);top:258.56px;font-size:8.3px;line-height:9.96px;color:#e2e3ee;font-weight:400;white-space:nowrap;letter-spacing:-0.25px;">26.000</div><div style="position:absolute;right:calc(100% - 362.5px);top:258.56px;font-size:8.3px;line-height:9.96px;color:#e2e3ee;font-weight:400;white-space:nowrap;letter-spacing:-0.25px;">1.000</div><div style="position:absolute;left:413px;top:257.44px;width:33.5px;height:11.8px;background:#34375e;border:0.7px solid #40436a;box-sizing:border-box;border-radius:1.5px;"></div><div style="position:absolute;left:477px;top:257.44px;width:33.5px;height:11.8px;background:#34375e;border:0.7px solid #40436a;box-sizing:border-box;border-radius:1.5px;"></div><div style="position:absolute;left:329.79999999999995px;width:200px;text-align:center;top:258.56px;font-size:8.3px;line-height:9.96px;color:#e2e3ee;font-weight:400;white-space:nowrap;letter-spacing:-0.25px;">178.57</div><div style="position:absolute;left:393.79999999999995px;width:200px;text-align:center;top:258.56px;font-size:8.3px;line-height:9.96px;color:#e2e3ee;font-weight:400;white-space:nowrap;letter-spacing:-0.25px;">180.00</div><div style="position:absolute;right:calc(100% - 598.5px);top:258.56px;font-size:8.3px;line-height:9.96px;color:#e2e3ee;font-weight:400;white-space:nowrap;letter-spacing:-0.25px;">1.000</div><div style="position:absolute;right:calc(100% - 714px);top:258.56px;font-size:8.3px;line-height:9.96px;color:#e2e3ee;font-weight:400;white-space:nowrap;letter-spacing:-0.25px;">39.000</div><div style="position:absolute;left:661px;width:200px;text-align:center;top:258.56px;font-size:8.3px;line-height:9.96px;color:#e2e3ee;font-weight:400;white-space:nowrap;letter-spacing:-0.25px;">17:24:13</div><div style="position:absolute;left:752px;width:200px;text-align:center;top:258.56px;font-size:8.3px;line-height:9.96px;color:#e2e3ee;font-weight:400;white-space:nowrap;letter-spacing:-0.25px;">IEX</div><svg style="position:absolute;left:148.2px;top:72.80000000000001px" width="9" height="11" viewBox="0 0 9 11"><path d="M2.2,0.7 C2.2,0 3.6,0 3.6,0.7 L3.6,4.6 L3.9,4.4 C4.2,4 5.1,4 5.2,4.6 C5.6,4.2 6.4,4.3 6.5,4.9 C6.9,4.6 7.8,4.7 7.8,5.4 L7.8,8 C7.8,9.5 7,10.5 5.8,10.5 L3.6,10.5 C2.8,10.5 2.3,10 1.8,9.3 L0.4,7 C0.1,6.5 0.6,5.9 1.1,6.3 L2.2,7.3 Z" fill="#f4f4f4" stroke="#111" stroke-width="0.6"/></svg><div style="position:absolute;left:898px;top:217px;width:2px;height:42px;background:#4a4c6e;border-radius:1px;"></div><div style="position:absolute;left:0px;top:0px;width:906px;height:274px;border:2px solid #15162b;border-top:3px solid #111122;border-bottom:5.2px solid #0e0d1d;box-sizing:border-box;border-radius:5px;"></div><div style="position:absolute;left:2px;top:272px;width:902px;height:1.6px;background:#44508a;"></div></div><div class="sw" style="position:absolute;left:841px;top:16px;width:330px;height:281px;border-radius:4px;overflow:hidden;box-shadow:0 0 12px 5px rgba(0,0,0,.10),7px 12px 16px 5px rgba(0,0,0,.16);z-index:3;"><div style="position:absolute;left:0px;top:0px;width:330px;height:281px;background:#252743;"></div><div style="position:absolute;left:0px;top:0px;width:330px;height:11px;background:#292b50;"></div><div style="position:absolute;left:0px;top:11px;width:330px;height:8.5px;background:#2c2e54;"></div><div style="position:absolute;left:0px;top:10.6px;width:330px;height:0.8px;background:#212342;"></div><div style="position:absolute;left:2.6000000000000227px;top:3.6000000000000014px;width:1.4px;height:1.2px;background:#a9aac4;"></div><div style="position:absolute;left:2.6000000000000227px;top:5.600000000000001px;width:1.4px;height:1.2px;background:#a9aac4;"></div><div style="position:absolute;left:2.6000000000000227px;top:7.600000000000001px;width:1.4px;height:1.2px;background:#a9aac4;"></div><div style="position:absolute;left:4.600000000000023px;top:3.6000000000000014px;width:1.4px;height:1.2px;background:#a9aac4;"></div><div style="position:absolute;left:4.600000000000023px;top:5.600000000000001px;width:1.4px;height:1.2px;background:#a9aac4;"></div><div style="position:absolute;left:4.600000000000023px;top:7.600000000000001px;width:1.4px;height:1.2px;background:#a9aac4;"></div><div style="position:absolute;left:11px;top:2.18px;font-size:6.2px;line-height:7.44px;color:#f2f2f8;font-weight:700;white-space:nowrap;letter-spacing:0px;">News</div><div style="position:absolute;left:34px;top:1px;width:1px;height:10px;background:#24264a;"></div><div style="position:absolute;left:37px;top:5.5px;width:6px;height:0.7px;background:#7e81a8;"></div><div style="position:absolute;left:39.64999999999998px;top:2.6000000000000014px;width:0.7px;height:6px;background:#7e81a8;"></div><div style="position:absolute;left:46px;top:2px;width:42px;height:7.5px;background:#1c1d3a;"></div><div style="position:absolute;left:48px;top:2.42px;font-size:5.8px;line-height:6.96px;color:#5e6082;font-weight:400;white-space:nowrap;letter-spacing:0px;">Symbol...</div><div style="position:absolute;left:90.20000000000005px;top:2.5px;width:6.6px;height:6.6px;border:0.8px solid #5c5e84;border-radius:50%;box-sizing:border-box;"></div><div style="position:absolute;left:93.14999999999998px;top:4.800000000000001px;width:0.7px;height:2.6px;background:#5c5e84;"></div><svg style="position:absolute;left:106px;top:2.6000000000000014px" width="6.5" height="6.5"><g fill="none" stroke="#7c7e9c" stroke-width="0.8"><rect x="0.6" y="2.6" width="3.6" height="2" rx="1" transform="rotate(-45 2.4 3.6)"/><rect x="2.4" y="0.9" width="3.6" height="2" rx="1" transform="rotate(-45 4.2 1.9)"/></g></svg><div style="position:absolute;left:310.5px;top:4.199999999999999px;width:4.5px;height:4px;border:0.8px solid #8a8cac;border-radius:1px;box-sizing:border-box;"></div><div style="position:absolute;left:312.0px;top:3.0px;width:4.5px;height:4px;border:0.8px solid #8a8cac;border-radius:1px;border-left:none;border-bottom:none;box-sizing:border-box;"></div><svg style="position:absolute;left:319.5999999999999px;top:2.6000000000000014px" width="6" height="6"><path d="M0.4,0.4L5.4,5.4M5.4,0.4L0.4,5.4" stroke="#a4a6c2" stroke-width="0.8"/></svg><div style="position:absolute;left:5px;top:12.82px;font-size:5.8px;line-height:6.96px;color:#9c9ebe;font-weight:400;white-space:nowrap;letter-spacing:-0.12px;">Date and Time</div><div style="position:absolute;left:47px;top:12.76px;font-size:5.9px;line-height:7.08px;color:#9c9ebe;font-weight:400;white-space:nowrap;letter-spacing:0px;">Title</div><div style="position:absolute;left:1px;top:23.24px;font-size:6.6px;line-height:7.92px;color:#e4e5f0;font-weight:400;white-space:nowrap;letter-spacing:0.05px;">10/Oct/</div><div style="position:absolute;left:26.700000000000045px;top:23.24px;font-size:6.6px;line-height:7.92px;color:#e4e5f0;font-weight:400;white-space:nowrap;letter-spacing:0.05px;">17:38</div><div style="position:absolute;left:47px;top:23.24px;font-size:6.6px;line-height:7.92px;color:#e4e5f0;font-weight:400;white-space:nowrap;letter-spacing:-0.158px;">CORSAIR Launches K70 CORE, The New Standard for Mainstream Gaming Keyboards</div><div style="position:absolute;left:26px;top:34.05px;width:296px;height:0.8px;background:#2d2f52;"></div><div style="position:absolute;left:26.700000000000045px;top:38.19px;font-size:6.6px;line-height:7.92px;color:#e4e5f0;font-weight:400;white-space:nowrap;letter-spacing:0.05px;">17:37</div><div style="position:absolute;left:47px;top:38.19px;font-size:6.6px;line-height:7.92px;color:#e4e5f0;font-weight:400;white-space:nowrap;letter-spacing:-0.425px;">BASTIAN ROTTENBERG APPOINTED CEO OF W&Uuml;RTH MRO, SAFETY, AND METALWORKING</div><div style="position:absolute;left:47px;top:46.19px;font-size:6.6px;line-height:7.92px;color:#e4e5f0;font-weight:400;white-space:nowrap;letter-spacing:-0.282px;">DIVISION</div><div style="position:absolute;left:26px;top:57.0px;width:296px;height:0.8px;background:#2d2f52;"></div><div style="position:absolute;left:26.700000000000045px;top:61.14px;font-size:6.6px;line-height:7.92px;color:#e4e5f0;font-weight:400;white-space:nowrap;letter-spacing:0.05px;">17:36</div><div style="position:absolute;left:47px;top:61.14px;font-size:6.6px;line-height:7.92px;color:#e4e5f0;font-weight:400;white-space:nowrap;letter-spacing:-0.013px;">Konica Minolta Again Named a Leader in Worldwide Print Transformation by IDC</div><div style="position:absolute;left:47px;top:69.14px;font-size:6.6px;line-height:7.92px;color:#e4e5f0;font-weight:400;white-space:nowrap;letter-spacing:-0.169px;">MarketScape</div><div style="position:absolute;left:26px;top:79.95px;width:296px;height:0.8px;background:#2d2f52;"></div><div style="position:absolute;left:26.700000000000045px;top:84.09px;font-size:6.6px;line-height:7.92px;color:#e4e5f0;font-weight:400;white-space:nowrap;letter-spacing:0.05px;">17:35</div><div style="position:absolute;left:47px;top:84.09px;font-size:6.6px;line-height:7.92px;color:#e4e5f0;font-weight:400;white-space:nowrap;letter-spacing:-0.036px;">Momentum Worldwide Secures Experiential AI Patents to Revolutionize Brand Experiences</div><div style="position:absolute;left:26px;top:94.9px;width:296px;height:0.8px;background:#2d2f52;"></div><div style="position:absolute;left:26.700000000000045px;top:99.04px;font-size:6.6px;line-height:7.92px;color:#e4e5f0;font-weight:400;white-space:nowrap;letter-spacing:0.05px;">17:35</div><div style="position:absolute;left:47px;top:99.04px;font-size:6.6px;line-height:7.92px;color:#e4e5f0;font-weight:400;white-space:nowrap;letter-spacing:-0.084px;">Food Chain Digest Names Werner a 2023 Top Food Chain Provider</div><div style="position:absolute;left:26px;top:109.85000000000001px;width:296px;height:0.8px;background:#2d2f52;"></div><div style="position:absolute;left:26.700000000000045px;top:113.99px;font-size:6.6px;line-height:7.92px;color:#e4e5f0;font-weight:400;white-space:nowrap;letter-spacing:0.05px;">17:32</div><div style="position:absolute;left:47px;top:113.99px;font-size:6.6px;line-height:7.92px;color:#e4e5f0;font-weight:400;white-space:nowrap;letter-spacing:-0.041px;">Assisted Living at Hammonton Gets the Green Light</div><div style="position:absolute;left:26px;top:124.80000000000001px;width:296px;height:0.8px;background:#2d2f52;"></div><div style="position:absolute;left:26.700000000000045px;top:128.94px;font-size:6.6px;line-height:7.92px;color:#e4e5f0;font-weight:400;white-space:nowrap;letter-spacing:0.05px;">17:31</div><div style="position:absolute;left:47px;top:128.94px;font-size:6.6px;line-height:7.92px;color:#e4e5f0;font-weight:400;white-space:nowrap;letter-spacing:-0.151px;">KBRA Releases Research - KBRA-Rated Private Equity and Private Credit Firms Remain</div><div style="position:absolute;left:47px;top:136.94px;font-size:6.6px;line-height:7.92px;color:#e4e5f0;font-weight:400;white-space:nowrap;letter-spacing:-0.034px;">Resilient Despite Challenging Environment</div><div style="position:absolute;left:26px;top:147.75px;width:296px;height:0.8px;background:#2d2f52;"></div><div style="position:absolute;left:26.700000000000045px;top:151.89px;font-size:6.6px;line-height:7.92px;color:#e4e5f0;font-weight:400;white-space:nowrap;letter-spacing:0.05px;">17:30</div><div style="position:absolute;left:47px;top:151.89px;font-size:6.6px;line-height:7.92px;color:#e4e5f0;font-weight:400;white-space:nowrap;letter-spacing:-0.078px;">TruChoice Hosts Annual Discover Conference</div><div style="position:absolute;left:26px;top:162.7px;width:296px;height:0.8px;background:#2d2f52;"></div><div style="position:absolute;left:26.700000000000045px;top:166.84px;font-size:6.6px;line-height:7.92px;color:#e4e5f0;font-weight:400;white-space:nowrap;letter-spacing:0.05px;">17:30</div><div style="position:absolute;left:47px;top:166.84px;font-size:6.6px;line-height:7.92px;color:#e4e5f0;font-weight:400;white-space:nowrap;letter-spacing:-0.21px;">BLACK ENTERPRISE Honors Black Business Leaders at the 2023 Black Men XCEL Summit</div><div style="position:absolute;left:26px;top:177.64999999999998px;width:296px;height:0.8px;background:#2d2f52;"></div><div style="position:absolute;left:26.700000000000045px;top:181.79px;font-size:6.6px;line-height:7.92px;color:#e4e5f0;font-weight:400;white-space:nowrap;letter-spacing:0.05px;">17:30</div><div style="position:absolute;left:47px;top:181.79px;font-size:6.6px;line-height:7.92px;color:#e4e5f0;font-weight:400;white-space:nowrap;letter-spacing:-0.015px;">InventHelp Inventor Develops Smart Monitor for Electric Utility Power Transformers (TRO-</div><div style="position:absolute;left:47px;top:189.79px;font-size:6.6px;line-height:7.92px;color:#e4e5f0;font-weight:400;white-space:nowrap;letter-spacing:-0.301px;">889)</div><div style="position:absolute;left:26px;top:200.59999999999997px;width:296px;height:0.8px;background:#2d2f52;"></div><div style="position:absolute;left:26.700000000000045px;top:204.74px;font-size:6.6px;line-height:7.92px;color:#e4e5f0;font-weight:400;white-space:nowrap;letter-spacing:0.05px;">17:30</div><div style="position:absolute;left:47px;top:204.74px;font-size:6.6px;line-height:7.92px;color:#e4e5f0;font-weight:400;white-space:nowrap;letter-spacing:-0.107px;">JEDEC and Open Compute Project Foundation Pave the Way for a New Era of Chiplet</div><div style="position:absolute;left:47px;top:212.74px;font-size:6.6px;line-height:7.92px;color:#e4e5f0;font-weight:400;white-space:nowrap;letter-spacing:0.036px;">Innovation</div><div style="position:absolute;left:26px;top:223.54999999999995px;width:296px;height:0.8px;background:#2d2f52;"></div><div style="position:absolute;left:26.700000000000045px;top:227.69px;font-size:6.6px;line-height:7.92px;color:#e4e5f0;font-weight:400;white-space:nowrap;letter-spacing:0.05px;">17:30</div><div style="position:absolute;left:47px;top:227.69px;font-size:6.6px;line-height:7.92px;color:#e4e5f0;font-weight:400;white-space:nowrap;letter-spacing:-0.022px;">Astrazeneca Foundation Awards 12 Nonprofit Organizations More Than $2M to Advance</div><div style="position:absolute;left:47px;top:235.69px;font-size:6.6px;line-height:7.92px;color:#e4e5f0;font-weight:400;white-space:nowrap;letter-spacing:-0.001px;">Health Equity</div><div style="position:absolute;left:26px;top:246.49999999999994px;width:296px;height:0.8px;background:#2d2f52;"></div><div style="position:absolute;left:26.700000000000045px;top:250.64px;font-size:6.6px;line-height:7.92px;color:#e4e5f0;font-weight:400;white-space:nowrap;letter-spacing:0.05px;">17:30</div><div style="position:absolute;left:47px;top:250.64px;font-size:6.6px;line-height:7.92px;color:#e4e5f0;font-weight:400;white-space:nowrap;letter-spacing:-0.055px;">Bowker Now Offers DeepZen AI Technology to Make Audiobook Production Fast, Easy, and</div><div style="position:absolute;left:47px;top:258.64px;font-size:6.6px;line-height:7.92px;color:#e4e5f0;font-weight:400;white-space:nowrap;letter-spacing:0.025px;">Affordable</div><div style="position:absolute;left:26px;top:269.44999999999993px;width:296px;height:0.8px;background:#2d2f52;"></div><div style="position:absolute;left:26.700000000000045px;top:273.59px;font-size:6.6px;line-height:7.92px;color:#e4e5f0;font-weight:400;white-space:nowrap;letter-spacing:0.05px;">17:30</div><div style="position:absolute;left:47px;top:273.59px;font-size:6.6px;line-height:7.92px;color:#e4e5f0;font-weight:400;white-space:nowrap;letter-spacing:-0.06px;">Textron Aviation's Maintenance and Paint Apprenticeship Programs Recognized by the Kansas</div><div style="position:absolute;left:47px;top:281.59px;font-size:6.6px;line-height:7.92px;color:#e4e5f0;font-weight:400;white-space:nowrap;letter-spacing:0.19px;">Department of Commerce</div><div style="position:absolute;left:26px;top:292.3999999999999px;width:296px;height:0.8px;background:#2d2f52;"></div><div style="position:absolute;left:325px;top:20px;width:1.6px;height:209px;background:#3a3c5e;border-radius:1px;"></div><div style="position:absolute;left:0px;top:0px;width:330px;height:281px;border:1.2px solid #1b1c38;border-right:2px solid #15162c;box-sizing:border-box;border-radius:4px;"></div></div><div style="position:absolute;left:18px;top:193px;width:278px;height:290.5px;border-radius:4px;overflow:hidden;box-shadow:0 0 12px 5px rgba(0,0,0,.10),7px 12px 16px 5px rgba(0,0,0,.16);z-index:2;"><div style="position:absolute;left:0px;top:0px;width:278px;height:290.5px;background:#20223e;"></div><div style="position:absolute;left:0px;top:0px;width:278px;height:10.3px;background:#292b50;"></div><div style="position:absolute;left:2.1999999999999993px;top:1.9000000000000057px;width:3.8px;height:0.8px;background:#b4b5cc;"></div><div style="position:absolute;left:2.1999999999999993px;top:4.0px;width:3.8px;height:0.8px;background:#b4b5cc;"></div><div style="position:absolute;left:2.1999999999999993px;top:6.099999999999994px;width:3.8px;height:0.8px;background:#b4b5cc;"></div><div style="position:absolute;left:10px;top:1.02px;font-size:6.3px;line-height:7.56px;color:#f2f2f8;font-weight:700;white-space:nowrap;letter-spacing:0px;">Chart</div><div style="position:absolute;left:33px;top:0.5px;width:0.8px;height:9.5px;background:#24264a;"></div><div style="position:absolute;left:38.8px;top:4.199999999999989px;width:6px;height:0.7px;background:#7276a2;"></div><div style="position:absolute;left:41.45px;top:1.4000000000000057px;width:0.7px;height:6px;background:#7276a2;"></div><div style="position:absolute;left:47.5px;top:1.3000000000000114px;width:44.5px;height:7.4px;background:#1c1d3a;"></div><div style="position:absolute;left:50px;top:1.56px;font-size:5.9px;line-height:7.08px;color:#f0f0f6;font-weight:700;white-space:nowrap;letter-spacing:-0.1px;">SPX</div><div style="position:absolute;left:96.2px;top:2px;width:6px;height:6px;border:0.8px solid #6e7090;border-radius:50%;box-sizing:border-box;"></div><div style="position:absolute;left:98.85px;top:3.5999999999999943px;width:0.7px;height:2.8px;background:#6e7090;"></div><svg style="position:absolute;left:110.30000000000001px;top:1.8000000000000114px" width="6.5" height="6.5"><g fill="none" stroke="#7c7e9c" stroke-width="0.8"><rect x="0.6" y="2.6" width="3.6" height="2" rx="1" transform="rotate(-45 2.4 3.6)"/><rect x="2.4" y="0.9" width="3.6" height="2" rx="1" transform="rotate(-45 4.2 1.9)"/></g></svg><div style="position:absolute;left:161px;top:0.30000000000001137px;width:29px;height:9.5px;background:#2f3258;"></div><div style="position:absolute;left:169px;top:2.22px;font-size:6.3px;line-height:7.56px;color:#ececf4;font-weight:400;white-space:nowrap;letter-spacing:0px;">5m</div><div style="position:absolute;left:179.2px;top:3.20px;font-size:5px;line-height:6.00px;color:#ececf4;font-weight:400;white-space:nowrap;letter-spacing:0px;">&#x25BE;</div><div style="position:absolute;left:196.8px;top:0.30000000000001137px;width:19.2px;height:9.5px;background:#33365c;"></div><div style="position:absolute;left:201.0px;top:3.5px;width:1px;height:4px;background:#e6e6f0;"></div><div style="position:absolute;left:202.6px;top:2.5px;width:1px;height:6px;background:#e6e6f0;"></div><div style="position:absolute;left:204.2px;top:3px;width:1px;height:5px;background:#e6e6f0;"></div><div style="position:absolute;left:205.8px;top:2.5px;width:1px;height:6px;background:#e6e6f0;"></div><div style="position:absolute;left:209.5px;top:2.20px;font-size:5px;line-height:6.00px;color:#a8c0dc;font-weight:400;white-space:nowrap;letter-spacing:0px;">&#x25BE;</div><div style="position:absolute;left:223.3px;top:1.10px;font-size:5.5px;line-height:6.60px;color:#9a9cba;font-weight:400;white-space:nowrap;letter-spacing:0px;">---</div><div style="position:absolute;left:236.3px;top:3.4000000000000057px;width:5px;height:4.2px;border:0.8px solid #9a9cba;border-radius:1.5px;box-sizing:border-box;"></div><div style="position:absolute;left:238.3px;top:2.1999999999999886px;width:5px;height:4.2px;border:0.8px solid #9a9cba;border-radius:1.5px;box-sizing:border-box;border-left:none;border-bottom:none;"></div><svg style="position:absolute;left:246px;top:2px" width="7" height="6.5"><path d="M0.5,2.2L2.2,2.2L2.2,0.5M4.8,0.5L4.8,2.2L6.5,2.2M0.5,4.3L2.2,4.3L2.2,6M4.8,6L4.8,4.3L6.5,4.3" stroke="#9aa8c8" stroke-width="0.8" fill="none"/></svg><div style="position:absolute;left:261.4px;top:2.3000000000000114px;width:5.2px;height:0.8px;background:#9a9cba;"></div><div style="position:absolute;left:261.4px;top:4.5px;width:5.2px;height:0.8px;background:#9a9cba;"></div><div style="position:absolute;left:261.4px;top:6.700000000000017px;width:5.2px;height:0.8px;background:#9a9cba;"></div><svg style="position:absolute;left:270.6px;top:2.0999999999999943px" width="6" height="6"><path d="M0.4,0.4L5.4,5.4M5.4,0.4L0.4,5.4" stroke="#a4a6c2" stroke-width="0.8"/></svg><svg style="position:absolute;left:0;top:0" width="278" height="290.5" viewBox="0 0 278 290.5"><line x1="33.3" y1="13.5" x2="33.3" y2="258" stroke="#3c3f66" stroke-width="0.8" stroke-dasharray="1.2,1.8"/><line x1="107.6" y1="13.5" x2="107.6" y2="258" stroke="#3c3f66" stroke-width="0.8" stroke-dasharray="1.2,1.8"/><line x1="150.6" y1="13.5" x2="150.6" y2="258" stroke="#3c3f66" stroke-width="0.8" stroke-dasharray="1.2,1.8"/><line x1="225.2" y1="13.5" x2="225.2" y2="258" stroke="#3c3f66" stroke-width="0.8" stroke-dasharray="1.2,1.8"/><line x1="0" y1="13.300000000000011" x2="250" y2="13.300000000000011" stroke="#404372" stroke-width="0.9"/><line x1="78.6" y1="10.5" x2="78.6" y2="260.5" stroke="#45486e" stroke-width="0.9"/><line x1="0" y1="36.099999999999994" x2="250" y2="36.099999999999994" stroke="#45486e" stroke-width="0.9"/><text x="127" y="128.7" font-size="25" fill="#4d4f74" text-anchor="middle" font-family="Liberation Sans, sans-serif" textLength="37" lengthAdjust="spacingAndGlyphs">SPX</text><text x="127" y="142" font-size="6.6" fill="#4c4e70" text-anchor="middle" font-family="Liberation Sans, sans-serif">S&amp;P 500 Index</text><text x="127" y="158" font-size="10.5" fill="#4c4e70" text-anchor="middle" font-family="Liberation Sans, sans-serif">5m</text><rect x="1.40" y="219.28" width="0.9" height="11.15" fill="#2a7893"/><rect x="3.00" y="210.61" width="0.9" height="11.81" fill="#a8434e"/><rect x="4.60" y="202.10" width="0.9" height="11.77" fill="#a8434e"/><rect x="6.20" y="196.14" width="0.9" height="9.27" fill="#2a7893"/><rect x="7.80" y="188.55" width="0.9" height="10.02" fill="#2a7893"/><rect x="9.40" y="186.48" width="0.9" height="7.98" fill="#a8434e"/><rect x="11.00" y="185.68" width="0.9" height="6.32" fill="#2a7893"/><rect x="12.60" y="184.67" width="0.9" height="7.49" fill="#2a7893"/><rect x="14.20" y="186.89" width="0.9" height="5.31" fill="#a8434e"/><rect x="15.80" y="179.05" width="0.9" height="11.38" fill="#2a7893"/><rect x="17.40" y="173.33" width="0.9" height="9.32" fill="#2a7893"/><rect x="19.00" y="169.08" width="0.9" height="7.52" fill="#a8434e"/><rect x="20.60" y="161.99" width="0.9" height="9.92" fill="#2a7893"/><rect x="22.20" y="154.89" width="0.9" height="10.70" fill="#2a7893"/><rect x="23.80" y="146.05" width="0.9" height="12.37" fill="#2a7893"/><rect x="25.40" y="137.33" width="0.9" height="14.19" fill="#2a7893"/><rect x="27.00" y="128.37" width="0.9" height="14.27" fill="#2a7893"/><rect x="28.60" y="121.56" width="0.9" height="11.10" fill="#a8434e"/><rect x="30.20" y="115.87" width="0.9" height="8.70" fill="#a8434e"/><rect x="31.80" y="112.76" width="0.9" height="7.45" fill="#2a7893"/><rect x="33.40" y="113.75" width="0.9" height="7.78" fill="#a8434e"/><rect x="35.00" y="116.72" width="0.9" height="7.83" fill="#a8434e"/><rect x="36.60" y="119.48" width="0.9" height="7.64" fill="#a8434e"/><rect x="38.20" y="123.94" width="0.9" height="6.05" fill="#a8434e"/><rect x="39.80" y="124.26" width="0.9" height="8.36" fill="#a8434e"/><rect x="41.40" y="127.97" width="0.9" height="5.13" fill="#2a7893"/><rect x="43.00" y="127.87" width="0.9" height="4.13" fill="#a8434e"/><rect x="44.60" y="126.04" width="0.9" height="6.54" fill="#a8434e"/><rect x="46.20" y="122.57" width="0.9" height="6.46" fill="#a8434e"/><rect x="47.80" y="122.93" width="0.9" height="4.94" fill="#a8434e"/><rect x="49.40" y="122.50" width="0.9" height="6.19" fill="#2a7893"/><rect x="51.00" y="119.68" width="0.9" height="7.67" fill="#2a7893"/><rect x="52.60" y="114.30" width="0.9" height="10.10" fill="#2a7893"/><rect x="54.20" y="111.86" width="0.9" height="6.90" fill="#a8434e"/><rect x="55.80" y="108.88" width="0.9" height="6.67" fill="#a8434e"/><rect x="57.40" y="108.69" width="0.9" height="4.18" fill="#a8434e"/><rect x="59.00" y="107.45" width="0.9" height="6.94" fill="#a8434e"/><rect x="60.60" y="108.97" width="0.9" height="4.69" fill="#2a7893"/><rect x="62.20" y="108.38" width="0.9" height="5.70" fill="#2a7893"/><rect x="63.80" y="105.40" width="0.9" height="6.86" fill="#2a7893"/><rect x="65.40" y="105.32" width="0.9" height="4.23" fill="#2a7893"/><rect x="67.00" y="104.78" width="0.9" height="3.56" fill="#2a7893"/><rect x="68.60" y="103.02" width="0.9" height="4.65" fill="#a8434e"/><rect x="70.20" y="100.87" width="0.9" height="4.84" fill="#a8434e"/><rect x="71.80" y="96.99" width="0.9" height="5.94" fill="#a8434e"/><rect x="73.40" y="93.12" width="0.9" height="6.99" fill="#2a7893"/><rect x="75.00" y="90.35" width="0.9" height="6.92" fill="#a8434e"/><rect x="76.60" y="86.59" width="0.9" height="8.71" fill="#a8434e"/><rect x="78.20" y="87.40" width="0.9" height="3.85" fill="#a8434e"/><rect x="79.80" y="88.30" width="0.9" height="5.82" fill="#2a7893"/><rect x="81.40" y="91.18" width="0.9" height="4.85" fill="#a8434e"/><rect x="83.00" y="92.82" width="0.9" height="4.65" fill="#a8434e"/><rect x="84.60" y="94.12" width="0.9" height="4.18" fill="#2a7893"/><rect x="86.20" y="91.58" width="0.9" height="6.13" fill="#2a7893"/><rect x="87.80" y="91.95" width="0.9" height="3.89" fill="#a8434e"/><rect x="89.40" y="90.63" width="0.9" height="5.85" fill="#2a7893"/><rect x="91.00" y="91.31" width="0.9" height="4.86" fill="#a8434e"/><rect x="92.60" y="90.50" width="0.9" height="7.12" fill="#a8434e"/><rect x="94.20" y="92.22" width="0.9" height="6.93" fill="#a8434e"/><rect x="95.80" y="95.87" width="0.9" height="7.40" fill="#a8434e"/><rect x="97.40" y="100.59" width="0.9" height="8.32" fill="#2a7893"/><rect x="99.00" y="104.23" width="0.9" height="6.75" fill="#a8434e"/><rect x="108.00" y="122.63" width="0.9" height="9.47" fill="#2a7893"/><rect x="109.60" y="122.55" width="0.9" height="4.74" fill="#2a7893"/><rect x="111.20" y="121.31" width="0.9" height="5.10" fill="#a8434e"/><rect x="112.80" y="118.63" width="0.9" height="6.18" fill="#2a7893"/><rect x="114.40" y="118.72" width="0.9" height="4.27" fill="#a8434e"/><rect x="116.00" y="118.80" width="0.9" height="7.00" fill="#a8434e"/><rect x="117.60" y="121.03" width="0.9" height="4.72" fill="#a8434e"/><rect x="119.20" y="122.63" width="0.9" height="5.27" fill="#a8434e"/><rect x="120.80" y="123.26" width="0.9" height="4.02" fill="#a8434e"/><rect x="122.40" y="122.81" width="0.9" height="4.57" fill="#a8434e"/><rect x="124.00" y="124.67" width="0.9" height="5.12" fill="#2a7893"/><rect x="125.60" y="125.48" width="0.9" height="5.94" fill="#a8434e"/><rect x="127.20" y="126.15" width="0.9" height="6.35" fill="#a8434e"/><rect x="128.80" y="129.45" width="0.9" height="5.39" fill="#a8434e"/><rect x="130.40" y="131.37" width="0.9" height="5.29" fill="#a8434e"/><rect x="132.00" y="131.93" width="0.9" height="5.49" fill="#2a7893"/><rect x="133.60" y="132.10" width="0.9" height="3.34" fill="#2a7893"/><rect x="135.20" y="129.11" width="0.9" height="6.74" fill="#a8434e"/><rect x="136.80" y="125.41" width="0.9" height="6.52" fill="#a8434e"/><rect x="138.40" y="122.89" width="0.9" height="6.45" fill="#2a7893"/><rect x="140.00" y="119.41" width="0.9" height="7.18" fill="#2a7893"/><rect x="141.60" y="118.70" width="0.9" height="5.87" fill="#2a7893"/><rect x="143.20" y="118.64" width="0.9" height="4.13" fill="#2a7893"/><rect x="144.80" y="118.03" width="0.9" height="4.41" fill="#a8434e"/><rect x="146.40" y="114.86" width="0.9" height="6.78" fill="#a8434e"/><rect x="148.00" y="113.28" width="0.9" height="5.76" fill="#2a7893"/><rect x="149.60" y="110.94" width="0.9" height="5.29" fill="#2a7893"/><rect x="151.20" y="110.17" width="0.9" height="5.10" fill="#2a7893"/><rect x="152.80" y="107.04" width="0.9" height="6.91" fill="#2a7893"/><rect x="154.40" y="102.99" width="0.9" height="8.14" fill="#2a7893"/><rect x="156.00" y="103.89" width="0.9" height="8.08" fill="#a8434e"/><rect x="157.60" y="107.84" width="0.9" height="7.17" fill="#a8434e"/><rect x="159.20" y="109.77" width="0.9" height="7.53" fill="#a8434e"/><rect x="160.80" y="111.69" width="0.9" height="5.82" fill="#a8434e"/><rect x="162.40" y="112.86" width="0.9" height="6.99" fill="#a8434e"/><rect x="164.00" y="115.73" width="0.9" height="4.04" fill="#2a7893"/><rect x="165.60" y="115.03" width="0.9" height="3.93" fill="#a8434e"/><rect x="167.20" y="111.98" width="0.9" height="7.56" fill="#2a7893"/><rect x="168.80" y="110.52" width="0.9" height="6.63" fill="#a8434e"/><rect x="170.40" y="107.86" width="0.9" height="8.37" fill="#a8434e"/><rect x="172.00" y="103.86" width="0.9" height="8.81" fill="#a8434e"/><rect x="173.60" y="98.98" width="0.9" height="10.81" fill="#2a7893"/><rect x="175.20" y="94.85" width="0.9" height="9.44" fill="#a8434e"/><rect x="176.80" y="88.97" width="0.9" height="9.53" fill="#2a7893"/><rect x="178.40" y="81.46" width="0.9" height="11.16" fill="#2a7893"/><rect x="180.00" y="76.32" width="0.9" height="7.91" fill="#2a7893"/><rect x="181.60" y="71.67" width="0.9" height="6.83" fill="#2a7893"/><rect x="183.20" y="69.47" width="0.9" height="7.47" fill="#2a7893"/><rect x="184.80" y="69.42" width="0.9" height="3.87" fill="#a8434e"/><rect x="186.40" y="69.41" width="0.9" height="2.88" fill="#2a7893"/><rect x="188.00" y="67.99" width="0.9" height="6.29" fill="#a8434e"/><rect x="189.60" y="70.15" width="0.9" height="5.63" fill="#2a7893"/><rect x="191.20" y="70.22" width="0.9" height="3.98" fill="#a8434e"/><rect x="192.80" y="70.17" width="0.9" height="4.77" fill="#a8434e"/><rect x="194.40" y="68.34" width="0.9" height="6.74" fill="#a8434e"/><rect x="196.00" y="68.50" width="0.9" height="5.79" fill="#2a7893"/><rect x="197.60" y="65.18" width="0.9" height="6.50" fill="#a8434e"/><rect x="199.20" y="65.86" width="0.9" height="5.90" fill="#a8434e"/><rect x="200.80" y="67.44" width="0.9" height="4.44" fill="#2a7893"/><rect x="202.40" y="68.48" width="0.9" height="3.88" fill="#2a7893"/><rect x="204.00" y="69.56" width="0.9" height="4.46" fill="#2a7893"/><rect x="205.60" y="69.66" width="0.9" height="5.58" fill="#a8434e"/><rect x="207.20" y="72.21" width="0.9" height="3.95" fill="#a8434e"/><rect x="208.80" y="72.85" width="0.9" height="3.58" fill="#2a7893"/><rect x="210.40" y="73.19" width="0.9" height="5.23" fill="#a8434e"/><rect x="212.00" y="73.94" width="0.9" height="4.45" fill="#a8434e"/><rect x="213.60" y="72.97" width="0.9" height="6.28" fill="#2a7893"/><rect x="215.20" y="71.77" width="0.9" height="5.27" fill="#2a7893"/><rect x="216.80" y="69.41" width="0.9" height="5.98" fill="#2a7893"/><rect x="218.40" y="69.95" width="0.9" height="5.02" fill="#2a7893"/><rect x="224.20" y="61.38" width="0.9" height="3.74" fill="#2a7893"/><rect x="225.80" y="60.81" width="0.9" height="4.97" fill="#a8434e"/><rect x="227.40" y="58.45" width="0.9" height="4.70" fill="#a8434e"/><rect x="229.00" y="52.93" width="0.9" height="9.36" fill="#2a7893"/><rect x="230.60" y="48.67" width="0.9" height="8.82" fill="#a8434e"/><rect x="232.20" y="43.25" width="0.9" height="8.93" fill="#2a7893"/><rect x="233.80" y="37.08" width="0.9" height="10.66" fill="#a8434e"/><rect x="235.40" y="35.46" width="0.9" height="7.86" fill="#2a7893"/><rect x="237.00" y="35.22" width="0.9" height="2.79" fill="#2a7893"/><line x1="100.5" y1="109.60000000000002" x2="107" y2="109.60000000000002" stroke="#c8c8d8" stroke-width="0.8" stroke-dasharray="1.4,1"/><line x1="217.5" y1="72" x2="223.5" y2="72" stroke="#c8c8d8" stroke-width="0.8" stroke-dasharray="1.4,1"/><rect x="48.3" y="124.5" width="0.9" height="3.5" fill="#e8e8f0"/><rect x="164.2" y="115.39999999999998" width="0.9" height="2.4" fill="#e8e8f0"/><rect x="0" y="274.2" width="278" height="16.30000000000001" fill="#1e2040"/><rect x="90.5" y="274.2" width="171.5" height="16.30000000000001" fill="#333558"/><rect x="262" y="274.2" width="16" height="16.30000000000001" fill="#2a2c4e"/><rect x="0" y="274.2" width="7" height="16.30000000000001" fill="#3a3d62"/><polygon points="7.00,290.50 7.00,287.00 12.00,287.50 17.00,288.50 27.00,288.30 37.00,287.50 44.00,287.00 52.00,285.80 62.00,285.20 72.00,285.00 82.00,285.20 85.00,289.00 90.50,289.20 90.50,290.50" fill="#6a6c84"/><polygon points="91.00,290.50 92.00,289.00 94.50,286.60 99.00,285.70 104.00,284.50 107.00,283.20 110.00,282.00 113.00,281.20 117.00,281.70 122.00,281.50 127.00,280.50 132.00,279.90 137.00,279.80 142.00,279.10 145.00,277.80 152.00,278.50 157.00,278.70 160.00,279.50 167.00,280.00 172.00,281.50 182.00,281.60 192.00,281.00 207.00,280.00 214.00,278.00 222.00,277.00 232.00,277.30 242.00,277.50 252.00,276.50 257.00,275.50 261.80,274.30 261.80,290.50" fill="#8f8f95"/><rect x="91" y="278" width="0.9" height="8" fill="#d8d8e4"/><rect x="269.3" y="278" width="0.9" height="8" fill="#c0c0d0"/><polygon points="3.00,282.50 5.00,281.20 5.00,283.80" fill="#e0e0ea"/><polygon points="276.00,282.50 274.00,281.20 274.00,283.80" fill="#e0e0ea"/></svg><div style="position:absolute;right:calc(100% - 274.5px);top:23.64px;font-size:5.6px;line-height:6.72px;color:#b4b5c8;font-weight:400;white-space:nowrap;letter-spacing:0px;">4368.00</div><div style="position:absolute;right:calc(100% - 274.5px);top:45.90px;font-size:5.6px;line-height:6.72px;color:#b4b5c8;font-weight:400;white-space:nowrap;letter-spacing:0px;">4352.00</div><div style="position:absolute;right:calc(100% - 274.5px);top:57.03px;font-size:5.6px;line-height:6.72px;color:#b4b5c8;font-weight:400;white-space:nowrap;letter-spacing:0px;">4344.00</div><div style="position:absolute;right:calc(100% - 274.5px);top:68.16px;font-size:5.6px;line-height:6.72px;color:#b4b5c8;font-weight:400;white-space:nowrap;letter-spacing:0px;">4336.00</div><div style="position:absolute;right:calc(100% - 274.5px);top:79.29px;font-size:5.6px;line-height:6.72px;color:#b4b5c8;font-weight:400;white-space:nowrap;letter-spacing:0px;">4328.00</div><div style="position:absolute;right:calc(100% - 274.5px);top:90.42px;font-size:5.6px;line-height:6.72px;color:#b4b5c8;font-weight:400;white-space:nowrap;letter-spacing:0px;">4320.00</div><div style="position:absolute;right:calc(100% - 274.5px);top:101.55px;font-size:5.6px;line-height:6.72px;color:#b4b5c8;font-weight:400;white-space:nowrap;letter-spacing:0px;">4312.00</div><div style="position:absolute;right:calc(100% - 274.5px);top:112.68px;font-size:5.6px;line-height:6.72px;color:#b4b5c8;font-weight:400;white-space:nowrap;letter-spacing:0px;">4304.00</div><div style="position:absolute;right:calc(100% - 274.5px);top:123.81px;font-size:5.6px;line-height:6.72px;color:#b4b5c8;font-weight:400;white-space:nowrap;letter-spacing:0px;">4296.00</div><div style="position:absolute;right:calc(100% - 274.5px);top:134.94px;font-size:5.6px;line-height:6.72px;color:#b4b5c8;font-weight:400;white-space:nowrap;letter-spacing:0px;">4288.00</div><div style="position:absolute;right:calc(100% - 274.5px);top:146.07px;font-size:5.6px;line-height:6.72px;color:#b4b5c8;font-weight:400;white-space:nowrap;letter-spacing:0px;">4280.00</div><div style="position:absolute;right:calc(100% - 274.5px);top:157.20px;font-size:5.6px;line-height:6.72px;color:#b4b5c8;font-weight:400;white-space:nowrap;letter-spacing:0px;">4272.00</div><div style="position:absolute;right:calc(100% - 274.5px);top:168.33px;font-size:5.6px;line-height:6.72px;color:#b4b5c8;font-weight:400;white-space:nowrap;letter-spacing:0px;">4264.00</div><div style="position:absolute;right:calc(100% - 274.5px);top:179.46px;font-size:5.6px;line-height:6.72px;color:#b4b5c8;font-weight:400;white-space:nowrap;letter-spacing:0px;">4256.00</div><div style="position:absolute;right:calc(100% - 274.5px);top:190.59px;font-size:5.6px;line-height:6.72px;color:#b4b5c8;font-weight:400;white-space:nowrap;letter-spacing:0px;">4248.00</div><div style="position:absolute;right:calc(100% - 274.5px);top:201.72px;font-size:5.6px;line-height:6.72px;color:#b4b5c8;font-weight:400;white-space:nowrap;letter-spacing:0px;">4240.00</div><div style="position:absolute;right:calc(100% - 274.5px);top:212.85px;font-size:5.6px;line-height:6.72px;color:#b4b5c8;font-weight:400;white-space:nowrap;letter-spacing:0px;">4232.00</div><div style="position:absolute;right:calc(100% - 274.5px);top:223.98px;font-size:5.6px;line-height:6.72px;color:#b4b5c8;font-weight:400;white-space:nowrap;letter-spacing:0px;">4224.00</div><div style="position:absolute;right:calc(100% - 274.5px);top:235.11px;font-size:5.6px;line-height:6.72px;color:#b4b5c8;font-weight:400;white-space:nowrap;letter-spacing:0px;">4216.00</div><div style="position:absolute;right:calc(100% - 274.5px);top:246.24px;font-size:5.6px;line-height:6.72px;color:#b4b5c8;font-weight:400;white-space:nowrap;letter-spacing:0px;">4208.00</div><div style="position:absolute;left:250.39999999999998px;top:10.400000000000006px;width:25.5px;height:6px;background:#3a3d5e;"></div><div style="position:absolute;right:calc(100% - 274.5px);top:9.94px;font-size:5.6px;line-height:6.72px;color:#c8c8d8;font-weight:400;white-space:nowrap;letter-spacing:0px;">4378.42</div><svg style="position:absolute;left:250.5px;top:32px" width="27" height="9"><polygon points="0,4.4 3,0 26,0 26,8.8 3,8.8" fill="#45a24e"/></svg><div style="position:absolute;right:calc(100% - 274.5px);top:33.04px;font-size:5.6px;line-height:6.72px;color:#f0fff0;font-weight:400;white-space:nowrap;letter-spacing:0px;">4361.40</div><div style="position:absolute;left:225.5px;top:30.14px;font-size:5.6px;line-height:6.72px;color:#f0f0f6;font-weight:400;white-space:nowrap;letter-spacing:0px;">H: 4362.56</div><div style="position:absolute;left:2px;top:227.34px;font-size:5.6px;line-height:6.72px;color:#f0f0f6;font-weight:400;white-space:nowrap;letter-spacing:0px;">L: 4219.55</div><div style="position:absolute;left:-65.4px;width:200px;text-align:center;top:261.64px;font-size:5.6px;line-height:6.72px;color:#b4b5c8;font-weight:400;white-space:nowrap;letter-spacing:0px;">19:00</div><div style="position:absolute;left:8.5px;width:200px;text-align:center;top:261.64px;font-size:5.6px;line-height:6.72px;color:#b4b5c8;font-weight:400;white-space:nowrap;letter-spacing:0px;">Sat</div><div style="position:absolute;left:52.19999999999999px;width:200px;text-align:center;top:261.64px;font-size:5.6px;line-height:6.72px;color:#b4b5c8;font-weight:400;white-space:nowrap;letter-spacing:0px;">19:00</div><div style="position:absolute;left:125.19999999999999px;width:200px;text-align:center;top:261.64px;font-size:5.6px;line-height:6.72px;color:#b4b5c8;font-weight:400;white-space:nowrap;letter-spacing:0px;">Tue</div><div style="position:absolute;left:52.7px;top:260.3px;width:51.3px;height:8.7px;background:#3a3d60;border-radius:1px;"></div><div style="position:absolute;left:-21.599999999999994px;width:200px;text-align:center;top:261.64px;font-size:5.6px;line-height:6.72px;color:#f0f0f6;font-weight:400;white-space:nowrap;letter-spacing:0px;">06/10/23 21:40:00</div><div style="position:absolute;left:85.6px;top:20.599999999999994px;width:71.7px;height:47.4px;background:#16172b;"></div><div style="position:absolute;left:89px;top:23.30px;font-size:5.0px;line-height:6.00px;color:#e8e8f0;font-weight:400;white-space:nowrap;letter-spacing:0px;">06/10/23 21:40:00</div><div style="position:absolute;left:89px;top:32.24px;font-size:5.1px;line-height:6.12px;color:#b8b9ca;font-weight:400;white-space:nowrap;letter-spacing:0px;">Open</div><div style="position:absolute;right:calc(100% - 153.4px);top:32.30px;font-size:5.0px;line-height:6.00px;color:#eeeef6;font-weight:400;white-space:nowrap;letter-spacing:0px;">4322.01</div><div style="position:absolute;left:89px;top:38.24px;font-size:5.1px;line-height:6.12px;color:#b8b9ca;font-weight:400;white-space:nowrap;letter-spacing:0px;">High</div><div style="position:absolute;right:calc(100% - 153.4px);top:38.30px;font-size:5.0px;line-height:6.00px;color:#eeeef6;font-weight:400;white-space:nowrap;letter-spacing:0px;">4323.77</div><div style="position:absolute;left:89px;top:44.34px;font-size:5.1px;line-height:6.12px;color:#b8b9ca;font-weight:400;white-space:nowrap;letter-spacing:0px;">Low</div><div style="position:absolute;right:calc(100% - 153.4px);top:44.40px;font-size:5.0px;line-height:6.00px;color:#eeeef6;font-weight:400;white-space:nowrap;letter-spacing:0px;">4321.21</div><div style="position:absolute;left:89px;top:50.34px;font-size:5.1px;line-height:6.12px;color:#b8b9ca;font-weight:400;white-space:nowrap;letter-spacing:0px;">Close</div><div style="position:absolute;right:calc(100% - 153.4px);top:50.40px;font-size:5.0px;line-height:6.00px;color:#eeeef6;font-weight:400;white-space:nowrap;letter-spacing:0px;">4322.51</div><div style="position:absolute;left:89px;top:60.44px;font-size:5.1px;line-height:6.12px;color:#b8b9ca;font-weight:400;white-space:nowrap;letter-spacing:0px;">Volume</div><div style="position:absolute;left:0px;top:0px;width:278px;height:290.5px;border:1px solid #1c1d38;border-bottom:1px solid #5a5c78;box-sizing:border-box;border-radius:4px;"></div></div>
</body></html>
